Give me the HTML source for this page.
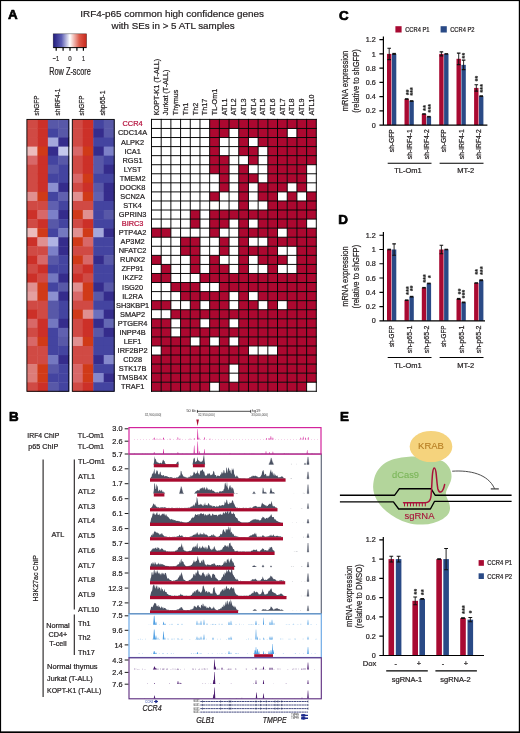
<!DOCTYPE html>
<html lang="en"><head><meta charset="utf-8"><title>Figure</title>
<style>html,body{margin:0;padding:0;background:#fff}svg{display:block;will-change:transform}text{font-family:'Liberation Sans',sans-serif}</style></head>
<body><svg width="520" height="733" viewBox="0 0 520 733">
<rect width="520" height="733" fill="#fff"/>
<text font-size="13.4" font-weight="bold" fill="#000" stroke="#000" stroke-width="0.7" stroke-linejoin="round" x="8.10" y="19.40">A</text>
<text font-size="9.8" text-anchor="middle" fill="#231f20" stroke="#231f20" stroke-width="0.22" textLength="183.6" lengthAdjust="spacingAndGlyphs" x="172.10" y="16.60">IRF4-p65 common high confidence genes</text>
<text font-size="9.8" text-anchor="middle" fill="#231f20" stroke="#231f20" stroke-width="0.22" textLength="123" lengthAdjust="spacingAndGlyphs" x="173.10" y="28.90">with SEs in &gt; 5 ATL samples</text>
<defs><linearGradient id="zg" x1="0" x2="1" y1="0" y2="0"><stop offset="0" stop-color="#221c7e"/><stop offset="0.25" stop-color="#5d5eb4"/><stop offset="0.5" stop-color="#ffffff"/><stop offset="0.78" stop-color="#dd5a4a"/><stop offset="1" stop-color="#c8281c"/></linearGradient></defs>
<rect x="53.2" y="33.8" width="33.4" height="13.8" fill="url(#zg)" stroke="#000" stroke-opacity="0.55" stroke-width="0.6"/>
<line x1="56.2" y1="47.6" x2="56.2" y2="50.8" stroke="#000" stroke-width="1.2"/>
<line x1="63.1" y1="47.6" x2="63.1" y2="50.8" stroke="#000" stroke-width="1.2"/>
<line x1="70" y1="47.6" x2="70" y2="50.8" stroke="#000" stroke-width="1.2"/>
<line x1="76.9" y1="47.6" x2="76.9" y2="50.8" stroke="#000" stroke-width="1.2"/>
<line x1="83.4" y1="47.6" x2="83.4" y2="50.8" stroke="#000" stroke-width="1.2"/>
<line x1="53.2" y1="47.6" x2="86.6" y2="47.6" stroke="#000" stroke-width="0.9"/>
<text font-size="8" text-anchor="middle" fill="#231f20" stroke="#231f20" stroke-width="0.22" textLength="6.5" lengthAdjust="spacingAndGlyphs" x="56.00" y="61.00">−1</text>
<text font-size="8" text-anchor="middle" fill="#231f20" stroke="#231f20" stroke-width="0.22" textLength="3.4" lengthAdjust="spacingAndGlyphs" x="70.00" y="61.00">0</text>
<text font-size="8" text-anchor="middle" fill="#231f20" stroke="#231f20" stroke-width="0.22" textLength="3.0" lengthAdjust="spacingAndGlyphs" x="83.40" y="61.00">1</text>
<text font-size="10.3" text-anchor="middle" fill="#231f20" stroke="#231f20" stroke-width="0.22" textLength="41.5" lengthAdjust="spacingAndGlyphs" x="70.00" y="74.60">Row Z-score</text>
<text font-size="7.5" fill="#231f20" stroke="#231f20" stroke-width="0.22" textLength="20" lengthAdjust="spacingAndGlyphs" transform="translate(39.20,115.50) rotate(-90)">shGFP</text>
<text font-size="7.5" fill="#231f20" stroke="#231f20" stroke-width="0.22" textLength="27" lengthAdjust="spacingAndGlyphs" transform="translate(60.40,115.50) rotate(-90)">shIRF4-1</text>
<text font-size="7.5" fill="#231f20" stroke="#231f20" stroke-width="0.22" textLength="20" lengthAdjust="spacingAndGlyphs" transform="translate(84.30,115.50) rotate(-90)">shGFP</text>
<text font-size="7.5" fill="#231f20" stroke="#231f20" stroke-width="0.22" textLength="25" lengthAdjust="spacingAndGlyphs" transform="translate(104.80,115.50) rotate(-90)">shp65-1</text>
<rect x="26.90" y="119.40" width="10.92" height="9.51" fill="#d04a44"/>
<rect x="37.38" y="119.40" width="10.92" height="9.51" fill="#cc3028"/>
<rect x="47.85" y="119.40" width="10.92" height="9.51" fill="#5858a8"/>
<rect x="58.32" y="119.40" width="10.92" height="9.51" fill="#5858a8"/>
<rect x="26.90" y="128.46" width="10.92" height="9.51" fill="#d04a44"/>
<rect x="37.38" y="128.46" width="10.92" height="9.51" fill="#cc3028"/>
<rect x="47.85" y="128.46" width="10.92" height="9.51" fill="#4444a0"/>
<rect x="58.32" y="128.46" width="10.92" height="9.51" fill="#5858a8"/>
<rect x="26.90" y="137.53" width="10.92" height="9.51" fill="#d04a44"/>
<rect x="37.38" y="137.53" width="10.92" height="9.51" fill="#cc3028"/>
<rect x="47.85" y="137.53" width="10.92" height="9.51" fill="#a4a8dc"/>
<rect x="58.32" y="137.53" width="10.92" height="9.51" fill="#352c8c"/>
<rect x="26.90" y="146.59" width="10.92" height="9.51" fill="#ecbcbc"/>
<rect x="37.38" y="146.59" width="10.92" height="9.51" fill="#d03a18"/>
<rect x="47.85" y="146.59" width="10.92" height="9.51" fill="#352c8c"/>
<rect x="58.32" y="146.59" width="10.92" height="9.51" fill="#c4c8ec"/>
<rect x="26.90" y="155.65" width="10.92" height="9.51" fill="#d86868"/>
<rect x="37.38" y="155.65" width="10.92" height="9.51" fill="#cc3028"/>
<rect x="47.85" y="155.65" width="10.92" height="9.51" fill="#4444a0"/>
<rect x="58.32" y="155.65" width="10.92" height="9.51" fill="#5858a8"/>
<rect x="26.90" y="164.72" width="10.92" height="9.51" fill="#d04a44"/>
<rect x="37.38" y="164.72" width="10.92" height="9.51" fill="#cc3028"/>
<rect x="47.85" y="164.72" width="10.92" height="9.51" fill="#5858a8"/>
<rect x="58.32" y="164.72" width="10.92" height="9.51" fill="#4444a0"/>
<rect x="26.90" y="173.78" width="10.92" height="9.51" fill="#d04a44"/>
<rect x="37.38" y="173.78" width="10.92" height="9.51" fill="#cc3028"/>
<rect x="47.85" y="173.78" width="10.92" height="9.51" fill="#4444a0"/>
<rect x="58.32" y="173.78" width="10.92" height="9.51" fill="#4444a0"/>
<rect x="26.90" y="182.84" width="10.92" height="9.51" fill="#d04a44"/>
<rect x="37.38" y="182.84" width="10.92" height="9.51" fill="#cc3028"/>
<rect x="47.85" y="182.84" width="10.92" height="9.51" fill="#8c90d0"/>
<rect x="58.32" y="182.84" width="10.92" height="9.51" fill="#352c8c"/>
<rect x="26.90" y="191.90" width="10.92" height="9.51" fill="#e09090"/>
<rect x="37.38" y="191.90" width="10.92" height="9.51" fill="#d03a18"/>
<rect x="47.85" y="191.90" width="10.92" height="9.51" fill="#4444a0"/>
<rect x="58.32" y="191.90" width="10.92" height="9.51" fill="#6060b0"/>
<rect x="26.90" y="200.97" width="10.92" height="9.51" fill="#d04a44"/>
<rect x="37.38" y="200.97" width="10.92" height="9.51" fill="#d04a44"/>
<rect x="47.85" y="200.97" width="10.92" height="9.51" fill="#6060b0"/>
<rect x="58.32" y="200.97" width="10.92" height="9.51" fill="#4444a0"/>
<rect x="26.90" y="210.03" width="10.92" height="9.51" fill="#cc3028"/>
<rect x="37.38" y="210.03" width="10.92" height="9.51" fill="#d86868"/>
<rect x="47.85" y="210.03" width="10.92" height="9.51" fill="#7c80c8"/>
<rect x="58.32" y="210.03" width="10.92" height="9.51" fill="#352c8c"/>
<rect x="26.90" y="219.09" width="10.92" height="9.51" fill="#d04a44"/>
<rect x="37.38" y="219.09" width="10.92" height="9.51" fill="#cc3028"/>
<rect x="47.85" y="219.09" width="10.92" height="9.51" fill="#5858a8"/>
<rect x="58.32" y="219.09" width="10.92" height="9.51" fill="#4444a0"/>
<rect x="26.90" y="228.16" width="10.92" height="9.51" fill="#ecbcbc"/>
<rect x="37.38" y="228.16" width="10.92" height="9.51" fill="#d03a18"/>
<rect x="47.85" y="228.16" width="10.92" height="9.51" fill="#4444a0"/>
<rect x="58.32" y="228.16" width="10.92" height="9.51" fill="#7478c0"/>
<rect x="26.90" y="237.22" width="10.92" height="9.51" fill="#cc3028"/>
<rect x="37.38" y="237.22" width="10.92" height="9.51" fill="#e09090"/>
<rect x="47.85" y="237.22" width="10.92" height="9.51" fill="#b0b4e4"/>
<rect x="58.32" y="237.22" width="10.92" height="9.51" fill="#352c8c"/>
<rect x="26.90" y="246.28" width="10.92" height="9.51" fill="#d04a44"/>
<rect x="37.38" y="246.28" width="10.92" height="9.51" fill="#d04a44"/>
<rect x="47.85" y="246.28" width="10.92" height="9.51" fill="#7c80c8"/>
<rect x="58.32" y="246.28" width="10.92" height="9.51" fill="#352c8c"/>
<rect x="26.90" y="255.35" width="10.92" height="9.51" fill="#cc3028"/>
<rect x="37.38" y="255.35" width="10.92" height="9.51" fill="#d86868"/>
<rect x="47.85" y="255.35" width="10.92" height="9.51" fill="#5858a8"/>
<rect x="58.32" y="255.35" width="10.92" height="9.51" fill="#4444a0"/>
<rect x="26.90" y="264.41" width="10.92" height="9.51" fill="#d04a44"/>
<rect x="37.38" y="264.41" width="10.92" height="9.51" fill="#cc3028"/>
<rect x="47.85" y="264.41" width="10.92" height="9.51" fill="#4444a0"/>
<rect x="58.32" y="264.41" width="10.92" height="9.51" fill="#4444a0"/>
<rect x="26.90" y="273.47" width="10.92" height="9.51" fill="#cc3028"/>
<rect x="37.38" y="273.47" width="10.92" height="9.51" fill="#d04a44"/>
<rect x="47.85" y="273.47" width="10.92" height="9.51" fill="#7478c0"/>
<rect x="58.32" y="273.47" width="10.92" height="9.51" fill="#352c8c"/>
<rect x="26.90" y="282.53" width="10.92" height="9.51" fill="#e09090"/>
<rect x="37.38" y="282.53" width="10.92" height="9.51" fill="#d03a18"/>
<rect x="47.85" y="282.53" width="10.92" height="9.51" fill="#4444a0"/>
<rect x="58.32" y="282.53" width="10.92" height="9.51" fill="#5858a8"/>
<rect x="26.90" y="291.60" width="10.92" height="9.51" fill="#e4a0a0"/>
<rect x="37.38" y="291.60" width="10.92" height="9.51" fill="#d03a18"/>
<rect x="47.85" y="291.60" width="10.92" height="9.51" fill="#8c90d0"/>
<rect x="58.32" y="291.60" width="10.92" height="9.51" fill="#352c8c"/>
<rect x="26.90" y="300.66" width="10.92" height="9.51" fill="#d04a44"/>
<rect x="37.38" y="300.66" width="10.92" height="9.51" fill="#d04a44"/>
<rect x="47.85" y="300.66" width="10.92" height="9.51" fill="#5858a8"/>
<rect x="58.32" y="300.66" width="10.92" height="9.51" fill="#4444a0"/>
<rect x="26.90" y="309.72" width="10.92" height="9.51" fill="#cc3028"/>
<rect x="37.38" y="309.72" width="10.92" height="9.51" fill="#d04a44"/>
<rect x="47.85" y="309.72" width="10.92" height="9.51" fill="#5858a8"/>
<rect x="58.32" y="309.72" width="10.92" height="9.51" fill="#4444a0"/>
<rect x="26.90" y="318.79" width="10.92" height="9.51" fill="#d86868"/>
<rect x="37.38" y="318.79" width="10.92" height="9.51" fill="#cc3028"/>
<rect x="47.85" y="318.79" width="10.92" height="9.51" fill="#7478c0"/>
<rect x="58.32" y="318.79" width="10.92" height="9.51" fill="#352c8c"/>
<rect x="26.90" y="327.85" width="10.92" height="9.51" fill="#d04a44"/>
<rect x="37.38" y="327.85" width="10.92" height="9.51" fill="#cc3028"/>
<rect x="47.85" y="327.85" width="10.92" height="9.51" fill="#4444a0"/>
<rect x="58.32" y="327.85" width="10.92" height="9.51" fill="#6060b0"/>
<rect x="26.90" y="336.91" width="10.92" height="9.51" fill="#d86868"/>
<rect x="37.38" y="336.91" width="10.92" height="9.51" fill="#d03a18"/>
<rect x="47.85" y="336.91" width="10.92" height="9.51" fill="#4444a0"/>
<rect x="58.32" y="336.91" width="10.92" height="9.51" fill="#5858a8"/>
<rect x="26.90" y="345.98" width="10.92" height="9.51" fill="#d04a44"/>
<rect x="37.38" y="345.98" width="10.92" height="9.51" fill="#d04a44"/>
<rect x="47.85" y="345.98" width="10.92" height="9.51" fill="#4444a0"/>
<rect x="58.32" y="345.98" width="10.92" height="9.51" fill="#4444a0"/>
<rect x="26.90" y="355.04" width="10.92" height="9.51" fill="#d04a44"/>
<rect x="37.38" y="355.04" width="10.92" height="9.51" fill="#d04a44"/>
<rect x="47.85" y="355.04" width="10.92" height="9.51" fill="#7478c0"/>
<rect x="58.32" y="355.04" width="10.92" height="9.51" fill="#352c8c"/>
<rect x="26.90" y="364.10" width="10.92" height="9.51" fill="#dc7c78"/>
<rect x="37.38" y="364.10" width="10.92" height="9.51" fill="#d03a18"/>
<rect x="47.85" y="364.10" width="10.92" height="9.51" fill="#5858a8"/>
<rect x="58.32" y="364.10" width="10.92" height="9.51" fill="#4444a0"/>
<rect x="26.90" y="373.16" width="10.92" height="9.51" fill="#dc7c78"/>
<rect x="37.38" y="373.16" width="10.92" height="9.51" fill="#d03a18"/>
<rect x="47.85" y="373.16" width="10.92" height="9.51" fill="#4444a0"/>
<rect x="58.32" y="373.16" width="10.92" height="9.51" fill="#4444a0"/>
<rect x="26.90" y="382.23" width="10.92" height="9.51" fill="#d04a44"/>
<rect x="37.38" y="382.23" width="10.92" height="9.51" fill="#cc3028"/>
<rect x="47.85" y="382.23" width="10.92" height="9.51" fill="#5858a8"/>
<rect x="58.32" y="382.23" width="10.92" height="9.51" fill="#4444a0"/>
<rect x="26.90" y="119.40" width="41.9" height="271.89" fill="none" stroke="#000" stroke-width="0.9"/>
<rect x="72.30" y="119.40" width="10.92" height="9.51" fill="#d04a44"/>
<rect x="82.77" y="119.40" width="10.92" height="9.51" fill="#cc3028"/>
<rect x="93.25" y="119.40" width="10.92" height="9.51" fill="#4444a0"/>
<rect x="103.72" y="119.40" width="10.92" height="9.51" fill="#5858a8"/>
<rect x="72.30" y="128.46" width="10.92" height="9.51" fill="#d04a44"/>
<rect x="82.77" y="128.46" width="10.92" height="9.51" fill="#cc3028"/>
<rect x="93.25" y="128.46" width="10.92" height="9.51" fill="#352c8c"/>
<rect x="103.72" y="128.46" width="10.92" height="9.51" fill="#5858a8"/>
<rect x="72.30" y="137.53" width="10.92" height="9.51" fill="#d04a44"/>
<rect x="82.77" y="137.53" width="10.92" height="9.51" fill="#cc3028"/>
<rect x="93.25" y="137.53" width="10.92" height="9.51" fill="#4444a0"/>
<rect x="103.72" y="137.53" width="10.92" height="9.51" fill="#4444a0"/>
<rect x="72.30" y="146.59" width="10.92" height="9.51" fill="#d86868"/>
<rect x="82.77" y="146.59" width="10.92" height="9.51" fill="#d03a18"/>
<rect x="93.25" y="146.59" width="10.92" height="9.51" fill="#352c8c"/>
<rect x="103.72" y="146.59" width="10.92" height="9.51" fill="#7c80c8"/>
<rect x="72.30" y="155.65" width="10.92" height="9.51" fill="#d04a44"/>
<rect x="82.77" y="155.65" width="10.92" height="9.51" fill="#cc3028"/>
<rect x="93.25" y="155.65" width="10.92" height="9.51" fill="#5858a8"/>
<rect x="103.72" y="155.65" width="10.92" height="9.51" fill="#4444a0"/>
<rect x="72.30" y="164.72" width="10.92" height="9.51" fill="#d04a44"/>
<rect x="82.77" y="164.72" width="10.92" height="9.51" fill="#cc3028"/>
<rect x="93.25" y="164.72" width="10.92" height="9.51" fill="#5858a8"/>
<rect x="103.72" y="164.72" width="10.92" height="9.51" fill="#352c8c"/>
<rect x="72.30" y="173.78" width="10.92" height="9.51" fill="#d86868"/>
<rect x="82.77" y="173.78" width="10.92" height="9.51" fill="#d03a18"/>
<rect x="93.25" y="173.78" width="10.92" height="9.51" fill="#4444a0"/>
<rect x="103.72" y="173.78" width="10.92" height="9.51" fill="#4444a0"/>
<rect x="72.30" y="182.84" width="10.92" height="9.51" fill="#d04a44"/>
<rect x="82.77" y="182.84" width="10.92" height="9.51" fill="#cc3028"/>
<rect x="93.25" y="182.84" width="10.92" height="9.51" fill="#5858a8"/>
<rect x="103.72" y="182.84" width="10.92" height="9.51" fill="#352c8c"/>
<rect x="72.30" y="191.90" width="10.92" height="9.51" fill="#e09090"/>
<rect x="82.77" y="191.90" width="10.92" height="9.51" fill="#d03a18"/>
<rect x="93.25" y="191.90" width="10.92" height="9.51" fill="#6060b0"/>
<rect x="103.72" y="191.90" width="10.92" height="9.51" fill="#352c8c"/>
<rect x="72.30" y="200.97" width="10.92" height="9.51" fill="#d04a44"/>
<rect x="82.77" y="200.97" width="10.92" height="9.51" fill="#d04a44"/>
<rect x="93.25" y="200.97" width="10.92" height="9.51" fill="#4444a0"/>
<rect x="103.72" y="200.97" width="10.92" height="9.51" fill="#4444a0"/>
<rect x="72.30" y="210.03" width="10.92" height="9.51" fill="#d03a18"/>
<rect x="82.77" y="210.03" width="10.92" height="9.51" fill="#e09090"/>
<rect x="93.25" y="210.03" width="10.92" height="9.51" fill="#4444a0"/>
<rect x="103.72" y="210.03" width="10.92" height="9.51" fill="#5858a8"/>
<rect x="72.30" y="219.09" width="10.92" height="9.51" fill="#d04a44"/>
<rect x="82.77" y="219.09" width="10.92" height="9.51" fill="#cc3028"/>
<rect x="93.25" y="219.09" width="10.92" height="9.51" fill="#4444a0"/>
<rect x="103.72" y="219.09" width="10.92" height="9.51" fill="#4444a0"/>
<rect x="72.30" y="228.16" width="10.92" height="9.51" fill="#e09090"/>
<rect x="82.77" y="228.16" width="10.92" height="9.51" fill="#d03a18"/>
<rect x="93.25" y="228.16" width="10.92" height="9.51" fill="#a4a8dc"/>
<rect x="103.72" y="228.16" width="10.92" height="9.51" fill="#352c8c"/>
<rect x="72.30" y="237.22" width="10.92" height="9.51" fill="#d03a18"/>
<rect x="82.77" y="237.22" width="10.92" height="9.51" fill="#d86868"/>
<rect x="93.25" y="237.22" width="10.92" height="9.51" fill="#4444a0"/>
<rect x="103.72" y="237.22" width="10.92" height="9.51" fill="#4444a0"/>
<rect x="72.30" y="246.28" width="10.92" height="9.51" fill="#d04a44"/>
<rect x="82.77" y="246.28" width="10.92" height="9.51" fill="#d04a44"/>
<rect x="93.25" y="246.28" width="10.92" height="9.51" fill="#4444a0"/>
<rect x="103.72" y="246.28" width="10.92" height="9.51" fill="#4444a0"/>
<rect x="72.30" y="255.35" width="10.92" height="9.51" fill="#d03a18"/>
<rect x="82.77" y="255.35" width="10.92" height="9.51" fill="#d86868"/>
<rect x="93.25" y="255.35" width="10.92" height="9.51" fill="#352c8c"/>
<rect x="103.72" y="255.35" width="10.92" height="9.51" fill="#5858a8"/>
<rect x="72.30" y="264.41" width="10.92" height="9.51" fill="#d04a44"/>
<rect x="82.77" y="264.41" width="10.92" height="9.51" fill="#cc3028"/>
<rect x="93.25" y="264.41" width="10.92" height="9.51" fill="#4444a0"/>
<rect x="103.72" y="264.41" width="10.92" height="9.51" fill="#4444a0"/>
<rect x="72.30" y="273.47" width="10.92" height="9.51" fill="#cc3028"/>
<rect x="82.77" y="273.47" width="10.92" height="9.51" fill="#d04a44"/>
<rect x="93.25" y="273.47" width="10.92" height="9.51" fill="#4444a0"/>
<rect x="103.72" y="273.47" width="10.92" height="9.51" fill="#4444a0"/>
<rect x="72.30" y="282.53" width="10.92" height="9.51" fill="#e09090"/>
<rect x="82.77" y="282.53" width="10.92" height="9.51" fill="#d03a18"/>
<rect x="93.25" y="282.53" width="10.92" height="9.51" fill="#352c8c"/>
<rect x="103.72" y="282.53" width="10.92" height="9.51" fill="#5858a8"/>
<rect x="72.30" y="291.60" width="10.92" height="9.51" fill="#d86868"/>
<rect x="82.77" y="291.60" width="10.92" height="9.51" fill="#d03a18"/>
<rect x="93.25" y="291.60" width="10.92" height="9.51" fill="#5858a8"/>
<rect x="103.72" y="291.60" width="10.92" height="9.51" fill="#352c8c"/>
<rect x="72.30" y="300.66" width="10.92" height="9.51" fill="#d04a44"/>
<rect x="82.77" y="300.66" width="10.92" height="9.51" fill="#d04a44"/>
<rect x="93.25" y="300.66" width="10.92" height="9.51" fill="#4444a0"/>
<rect x="103.72" y="300.66" width="10.92" height="9.51" fill="#4444a0"/>
<rect x="72.30" y="309.72" width="10.92" height="9.51" fill="#d03a18"/>
<rect x="82.77" y="309.72" width="10.92" height="9.51" fill="#e09090"/>
<rect x="93.25" y="309.72" width="10.92" height="9.51" fill="#6c70bc"/>
<rect x="103.72" y="309.72" width="10.92" height="9.51" fill="#352c8c"/>
<rect x="72.30" y="318.79" width="10.92" height="9.51" fill="#d04a44"/>
<rect x="82.77" y="318.79" width="10.92" height="9.51" fill="#cc3028"/>
<rect x="93.25" y="318.79" width="10.92" height="9.51" fill="#352c8c"/>
<rect x="103.72" y="318.79" width="10.92" height="9.51" fill="#6468b4"/>
<rect x="72.30" y="327.85" width="10.92" height="9.51" fill="#d04a44"/>
<rect x="82.77" y="327.85" width="10.92" height="9.51" fill="#cc3028"/>
<rect x="93.25" y="327.85" width="10.92" height="9.51" fill="#5858a8"/>
<rect x="103.72" y="327.85" width="10.92" height="9.51" fill="#352c8c"/>
<rect x="72.30" y="336.91" width="10.92" height="9.51" fill="#e09090"/>
<rect x="82.77" y="336.91" width="10.92" height="9.51" fill="#d03a18"/>
<rect x="93.25" y="336.91" width="10.92" height="9.51" fill="#4444a0"/>
<rect x="103.72" y="336.91" width="10.92" height="9.51" fill="#4444a0"/>
<rect x="72.30" y="345.98" width="10.92" height="9.51" fill="#d04a44"/>
<rect x="82.77" y="345.98" width="10.92" height="9.51" fill="#d04a44"/>
<rect x="93.25" y="345.98" width="10.92" height="9.51" fill="#4444a0"/>
<rect x="103.72" y="345.98" width="10.92" height="9.51" fill="#4444a0"/>
<rect x="72.30" y="355.04" width="10.92" height="9.51" fill="#d04a44"/>
<rect x="82.77" y="355.04" width="10.92" height="9.51" fill="#d04a44"/>
<rect x="93.25" y="355.04" width="10.92" height="9.51" fill="#352c8c"/>
<rect x="103.72" y="355.04" width="10.92" height="9.51" fill="#8488cc"/>
<rect x="72.30" y="364.10" width="10.92" height="9.51" fill="#d86868"/>
<rect x="82.77" y="364.10" width="10.92" height="9.51" fill="#d03a18"/>
<rect x="93.25" y="364.10" width="10.92" height="9.51" fill="#4444a0"/>
<rect x="103.72" y="364.10" width="10.92" height="9.51" fill="#4444a0"/>
<rect x="72.30" y="373.16" width="10.92" height="9.51" fill="#d86868"/>
<rect x="82.77" y="373.16" width="10.92" height="9.51" fill="#d03a18"/>
<rect x="93.25" y="373.16" width="10.92" height="9.51" fill="#8488cc"/>
<rect x="103.72" y="373.16" width="10.92" height="9.51" fill="#352c8c"/>
<rect x="72.30" y="382.23" width="10.92" height="9.51" fill="#d04a44"/>
<rect x="82.77" y="382.23" width="10.92" height="9.51" fill="#cc3028"/>
<rect x="93.25" y="382.23" width="10.92" height="9.51" fill="#4444a0"/>
<rect x="103.72" y="382.23" width="10.92" height="9.51" fill="#4444a0"/>
<rect x="72.30" y="119.40" width="41.9" height="271.89" fill="none" stroke="#000" stroke-width="0.9"/>
<text font-size="7.4" text-anchor="middle" fill="#b5103c" stroke="#b5103c" stroke-width="0.22" x="132.60" y="126.38">CCR4</text>
<text font-size="7.4" text-anchor="middle" fill="#231f20" stroke="#231f20" stroke-width="0.22" x="132.60" y="135.44">CDC14A</text>
<text font-size="7.4" text-anchor="middle" fill="#231f20" stroke="#231f20" stroke-width="0.22" x="132.60" y="144.51">ALPK2</text>
<text font-size="7.4" text-anchor="middle" fill="#231f20" stroke="#231f20" stroke-width="0.22" x="132.60" y="153.57">ICA1</text>
<text font-size="7.4" text-anchor="middle" fill="#231f20" stroke="#231f20" stroke-width="0.22" x="132.60" y="162.63">RGS1</text>
<text font-size="7.4" text-anchor="middle" fill="#231f20" stroke="#231f20" stroke-width="0.22" x="132.60" y="171.70">LYST</text>
<text font-size="7.4" text-anchor="middle" fill="#231f20" stroke="#231f20" stroke-width="0.22" x="132.60" y="180.76">TMEM2</text>
<text font-size="7.4" text-anchor="middle" fill="#231f20" stroke="#231f20" stroke-width="0.22" x="132.60" y="189.82">DOCK8</text>
<text font-size="7.4" text-anchor="middle" fill="#231f20" stroke="#231f20" stroke-width="0.22" x="132.60" y="198.89">SCN2A</text>
<text font-size="7.4" text-anchor="middle" fill="#231f20" stroke="#231f20" stroke-width="0.22" x="132.60" y="207.95">STK4</text>
<text font-size="7.4" text-anchor="middle" fill="#231f20" stroke="#231f20" stroke-width="0.22" x="132.60" y="217.01">GPRIN3</text>
<text font-size="7.4" text-anchor="middle" fill="#b5103c" stroke="#b5103c" stroke-width="0.22" x="132.60" y="226.07">BIRC3</text>
<text font-size="7.4" text-anchor="middle" fill="#231f20" stroke="#231f20" stroke-width="0.22" x="132.60" y="235.14">PTP4A2</text>
<text font-size="7.4" text-anchor="middle" fill="#231f20" stroke="#231f20" stroke-width="0.22" x="132.60" y="244.20">AP3M2</text>
<text font-size="7.4" text-anchor="middle" fill="#231f20" stroke="#231f20" stroke-width="0.22" x="132.60" y="253.26">NFATC2</text>
<text font-size="7.4" text-anchor="middle" fill="#231f20" stroke="#231f20" stroke-width="0.22" x="132.60" y="262.33">RUNX2</text>
<text font-size="7.4" text-anchor="middle" fill="#231f20" stroke="#231f20" stroke-width="0.22" x="132.60" y="271.39">ZFP91</text>
<text font-size="7.4" text-anchor="middle" fill="#231f20" stroke="#231f20" stroke-width="0.22" x="132.60" y="280.45">IKZF2</text>
<text font-size="7.4" text-anchor="middle" fill="#231f20" stroke="#231f20" stroke-width="0.22" x="132.60" y="289.52">ISG20</text>
<text font-size="7.4" text-anchor="middle" fill="#231f20" stroke="#231f20" stroke-width="0.22" x="132.60" y="298.58">IL2RA</text>
<text font-size="7.4" text-anchor="middle" fill="#231f20" stroke="#231f20" stroke-width="0.22" x="132.60" y="307.64">SH3KBP1</text>
<text font-size="7.4" text-anchor="middle" fill="#231f20" stroke="#231f20" stroke-width="0.22" x="132.60" y="316.70">SMAP2</text>
<text font-size="7.4" text-anchor="middle" fill="#231f20" stroke="#231f20" stroke-width="0.22" x="132.60" y="325.77">PTGER4</text>
<text font-size="7.4" text-anchor="middle" fill="#231f20" stroke="#231f20" stroke-width="0.22" x="132.60" y="334.83">INPP4B</text>
<text font-size="7.4" text-anchor="middle" fill="#231f20" stroke="#231f20" stroke-width="0.22" x="132.60" y="343.89">LEF1</text>
<text font-size="7.4" text-anchor="middle" fill="#231f20" stroke="#231f20" stroke-width="0.22" x="132.60" y="352.96">IRF2BP2</text>
<text font-size="7.4" text-anchor="middle" fill="#231f20" stroke="#231f20" stroke-width="0.22" x="132.60" y="362.02">CD28</text>
<text font-size="7.4" text-anchor="middle" fill="#231f20" stroke="#231f20" stroke-width="0.22" x="132.60" y="371.08">STK17B</text>
<text font-size="7.4" text-anchor="middle" fill="#231f20" stroke="#231f20" stroke-width="0.22" x="132.60" y="380.15">TMSB4X</text>
<text font-size="7.4" text-anchor="middle" fill="#231f20" stroke="#231f20" stroke-width="0.22" x="132.60" y="389.21">TRAF1</text>
<rect x="151.5" y="119.4" width="164.80" height="271.89" fill="#fff"/>
<rect x="209.66" y="119.40" width="9.69" height="9.06" fill="#ac0830"/>
<rect x="219.36" y="119.40" width="9.69" height="9.06" fill="#ac0830"/>
<rect x="229.05" y="119.40" width="9.69" height="9.06" fill="#ac0830"/>
<rect x="238.75" y="119.40" width="9.69" height="9.06" fill="#ac0830"/>
<rect x="248.44" y="119.40" width="9.69" height="9.06" fill="#ac0830"/>
<rect x="258.14" y="119.40" width="9.69" height="9.06" fill="#ac0830"/>
<rect x="267.83" y="119.40" width="9.69" height="9.06" fill="#ac0830"/>
<rect x="277.52" y="119.40" width="9.69" height="9.06" fill="#ac0830"/>
<rect x="287.22" y="119.40" width="9.69" height="9.06" fill="#ac0830"/>
<rect x="296.91" y="119.40" width="9.69" height="9.06" fill="#ac0830"/>
<rect x="306.61" y="119.40" width="9.69" height="9.06" fill="#ac0830"/>
<rect x="209.66" y="128.46" width="9.69" height="9.06" fill="#ac0830"/>
<rect x="219.36" y="128.46" width="9.69" height="9.06" fill="#ac0830"/>
<rect x="238.75" y="128.46" width="9.69" height="9.06" fill="#ac0830"/>
<rect x="248.44" y="128.46" width="9.69" height="9.06" fill="#ac0830"/>
<rect x="258.14" y="128.46" width="9.69" height="9.06" fill="#ac0830"/>
<rect x="267.83" y="128.46" width="9.69" height="9.06" fill="#ac0830"/>
<rect x="277.52" y="128.46" width="9.69" height="9.06" fill="#ac0830"/>
<rect x="296.91" y="128.46" width="9.69" height="9.06" fill="#ac0830"/>
<rect x="306.61" y="128.46" width="9.69" height="9.06" fill="#ac0830"/>
<rect x="209.66" y="137.53" width="9.69" height="9.06" fill="#ac0830"/>
<rect x="238.75" y="137.53" width="9.69" height="9.06" fill="#ac0830"/>
<rect x="258.14" y="137.53" width="9.69" height="9.06" fill="#ac0830"/>
<rect x="267.83" y="137.53" width="9.69" height="9.06" fill="#ac0830"/>
<rect x="277.52" y="137.53" width="9.69" height="9.06" fill="#ac0830"/>
<rect x="287.22" y="137.53" width="9.69" height="9.06" fill="#ac0830"/>
<rect x="296.91" y="137.53" width="9.69" height="9.06" fill="#ac0830"/>
<rect x="306.61" y="137.53" width="9.69" height="9.06" fill="#ac0830"/>
<rect x="209.66" y="146.59" width="9.69" height="9.06" fill="#ac0830"/>
<rect x="238.75" y="146.59" width="9.69" height="9.06" fill="#ac0830"/>
<rect x="248.44" y="146.59" width="9.69" height="9.06" fill="#ac0830"/>
<rect x="267.83" y="146.59" width="9.69" height="9.06" fill="#ac0830"/>
<rect x="277.52" y="146.59" width="9.69" height="9.06" fill="#ac0830"/>
<rect x="287.22" y="146.59" width="9.69" height="9.06" fill="#ac0830"/>
<rect x="296.91" y="146.59" width="9.69" height="9.06" fill="#ac0830"/>
<rect x="306.61" y="146.59" width="9.69" height="9.06" fill="#ac0830"/>
<rect x="209.66" y="155.65" width="9.69" height="9.06" fill="#ac0830"/>
<rect x="219.36" y="155.65" width="9.69" height="9.06" fill="#ac0830"/>
<rect x="248.44" y="155.65" width="9.69" height="9.06" fill="#ac0830"/>
<rect x="267.83" y="155.65" width="9.69" height="9.06" fill="#ac0830"/>
<rect x="277.52" y="155.65" width="9.69" height="9.06" fill="#ac0830"/>
<rect x="287.22" y="155.65" width="9.69" height="9.06" fill="#ac0830"/>
<rect x="296.91" y="155.65" width="9.69" height="9.06" fill="#ac0830"/>
<rect x="306.61" y="155.65" width="9.69" height="9.06" fill="#ac0830"/>
<rect x="209.66" y="164.72" width="9.69" height="9.06" fill="#ac0830"/>
<rect x="219.36" y="164.72" width="9.69" height="9.06" fill="#ac0830"/>
<rect x="238.75" y="164.72" width="9.69" height="9.06" fill="#ac0830"/>
<rect x="267.83" y="164.72" width="9.69" height="9.06" fill="#ac0830"/>
<rect x="277.52" y="164.72" width="9.69" height="9.06" fill="#ac0830"/>
<rect x="287.22" y="164.72" width="9.69" height="9.06" fill="#ac0830"/>
<rect x="296.91" y="164.72" width="9.69" height="9.06" fill="#ac0830"/>
<rect x="219.36" y="173.78" width="9.69" height="9.06" fill="#ac0830"/>
<rect x="238.75" y="173.78" width="9.69" height="9.06" fill="#ac0830"/>
<rect x="248.44" y="173.78" width="9.69" height="9.06" fill="#ac0830"/>
<rect x="267.83" y="173.78" width="9.69" height="9.06" fill="#ac0830"/>
<rect x="277.52" y="173.78" width="9.69" height="9.06" fill="#ac0830"/>
<rect x="287.22" y="173.78" width="9.69" height="9.06" fill="#ac0830"/>
<rect x="296.91" y="173.78" width="9.69" height="9.06" fill="#ac0830"/>
<rect x="219.36" y="182.84" width="9.69" height="9.06" fill="#ac0830"/>
<rect x="238.75" y="182.84" width="9.69" height="9.06" fill="#ac0830"/>
<rect x="258.14" y="182.84" width="9.69" height="9.06" fill="#ac0830"/>
<rect x="267.83" y="182.84" width="9.69" height="9.06" fill="#ac0830"/>
<rect x="277.52" y="182.84" width="9.69" height="9.06" fill="#ac0830"/>
<rect x="296.91" y="182.84" width="9.69" height="9.06" fill="#ac0830"/>
<rect x="209.66" y="191.90" width="9.69" height="9.06" fill="#ac0830"/>
<rect x="238.75" y="191.90" width="9.69" height="9.06" fill="#ac0830"/>
<rect x="258.14" y="191.90" width="9.69" height="9.06" fill="#ac0830"/>
<rect x="267.83" y="191.90" width="9.69" height="9.06" fill="#ac0830"/>
<rect x="287.22" y="191.90" width="9.69" height="9.06" fill="#ac0830"/>
<rect x="306.61" y="191.90" width="9.69" height="9.06" fill="#ac0830"/>
<rect x="238.75" y="200.97" width="9.69" height="9.06" fill="#ac0830"/>
<rect x="267.83" y="200.97" width="9.69" height="9.06" fill="#ac0830"/>
<rect x="277.52" y="200.97" width="9.69" height="9.06" fill="#ac0830"/>
<rect x="287.22" y="200.97" width="9.69" height="9.06" fill="#ac0830"/>
<rect x="296.91" y="200.97" width="9.69" height="9.06" fill="#ac0830"/>
<rect x="306.61" y="200.97" width="9.69" height="9.06" fill="#ac0830"/>
<rect x="190.28" y="210.03" width="9.69" height="9.06" fill="#ac0830"/>
<rect x="209.66" y="210.03" width="9.69" height="9.06" fill="#ac0830"/>
<rect x="219.36" y="210.03" width="9.69" height="9.06" fill="#ac0830"/>
<rect x="229.05" y="210.03" width="9.69" height="9.06" fill="#ac0830"/>
<rect x="238.75" y="210.03" width="9.69" height="9.06" fill="#ac0830"/>
<rect x="248.44" y="210.03" width="9.69" height="9.06" fill="#ac0830"/>
<rect x="258.14" y="210.03" width="9.69" height="9.06" fill="#ac0830"/>
<rect x="267.83" y="210.03" width="9.69" height="9.06" fill="#ac0830"/>
<rect x="277.52" y="210.03" width="9.69" height="9.06" fill="#ac0830"/>
<rect x="287.22" y="210.03" width="9.69" height="9.06" fill="#ac0830"/>
<rect x="296.91" y="210.03" width="9.69" height="9.06" fill="#ac0830"/>
<rect x="306.61" y="210.03" width="9.69" height="9.06" fill="#ac0830"/>
<rect x="190.28" y="219.09" width="9.69" height="9.06" fill="#ac0830"/>
<rect x="209.66" y="219.09" width="9.69" height="9.06" fill="#ac0830"/>
<rect x="219.36" y="219.09" width="9.69" height="9.06" fill="#ac0830"/>
<rect x="238.75" y="219.09" width="9.69" height="9.06" fill="#ac0830"/>
<rect x="258.14" y="219.09" width="9.69" height="9.06" fill="#ac0830"/>
<rect x="267.83" y="219.09" width="9.69" height="9.06" fill="#ac0830"/>
<rect x="277.52" y="219.09" width="9.69" height="9.06" fill="#ac0830"/>
<rect x="287.22" y="219.09" width="9.69" height="9.06" fill="#ac0830"/>
<rect x="296.91" y="219.09" width="9.69" height="9.06" fill="#ac0830"/>
<rect x="151.50" y="228.16" width="9.69" height="9.06" fill="#ac0830"/>
<rect x="161.19" y="228.16" width="9.69" height="9.06" fill="#ac0830"/>
<rect x="209.66" y="228.16" width="9.69" height="9.06" fill="#ac0830"/>
<rect x="238.75" y="228.16" width="9.69" height="9.06" fill="#ac0830"/>
<rect x="248.44" y="228.16" width="9.69" height="9.06" fill="#ac0830"/>
<rect x="258.14" y="228.16" width="9.69" height="9.06" fill="#ac0830"/>
<rect x="267.83" y="228.16" width="9.69" height="9.06" fill="#ac0830"/>
<rect x="287.22" y="228.16" width="9.69" height="9.06" fill="#ac0830"/>
<rect x="296.91" y="228.16" width="9.69" height="9.06" fill="#ac0830"/>
<rect x="306.61" y="228.16" width="9.69" height="9.06" fill="#ac0830"/>
<rect x="180.58" y="237.22" width="9.69" height="9.06" fill="#ac0830"/>
<rect x="190.28" y="237.22" width="9.69" height="9.06" fill="#ac0830"/>
<rect x="219.36" y="237.22" width="9.69" height="9.06" fill="#ac0830"/>
<rect x="238.75" y="237.22" width="9.69" height="9.06" fill="#ac0830"/>
<rect x="267.83" y="237.22" width="9.69" height="9.06" fill="#ac0830"/>
<rect x="277.52" y="237.22" width="9.69" height="9.06" fill="#ac0830"/>
<rect x="287.22" y="237.22" width="9.69" height="9.06" fill="#ac0830"/>
<rect x="296.91" y="237.22" width="9.69" height="9.06" fill="#ac0830"/>
<rect x="306.61" y="237.22" width="9.69" height="9.06" fill="#ac0830"/>
<rect x="180.58" y="246.28" width="9.69" height="9.06" fill="#ac0830"/>
<rect x="190.28" y="246.28" width="9.69" height="9.06" fill="#ac0830"/>
<rect x="219.36" y="246.28" width="9.69" height="9.06" fill="#ac0830"/>
<rect x="238.75" y="246.28" width="9.69" height="9.06" fill="#ac0830"/>
<rect x="248.44" y="246.28" width="9.69" height="9.06" fill="#ac0830"/>
<rect x="258.14" y="246.28" width="9.69" height="9.06" fill="#ac0830"/>
<rect x="267.83" y="246.28" width="9.69" height="9.06" fill="#ac0830"/>
<rect x="296.91" y="246.28" width="9.69" height="9.06" fill="#ac0830"/>
<rect x="306.61" y="246.28" width="9.69" height="9.06" fill="#ac0830"/>
<rect x="151.50" y="255.35" width="9.69" height="9.06" fill="#ac0830"/>
<rect x="190.28" y="255.35" width="9.69" height="9.06" fill="#ac0830"/>
<rect x="209.66" y="255.35" width="9.69" height="9.06" fill="#ac0830"/>
<rect x="238.75" y="255.35" width="9.69" height="9.06" fill="#ac0830"/>
<rect x="258.14" y="255.35" width="9.69" height="9.06" fill="#ac0830"/>
<rect x="267.83" y="255.35" width="9.69" height="9.06" fill="#ac0830"/>
<rect x="277.52" y="255.35" width="9.69" height="9.06" fill="#ac0830"/>
<rect x="296.91" y="255.35" width="9.69" height="9.06" fill="#ac0830"/>
<rect x="306.61" y="255.35" width="9.69" height="9.06" fill="#ac0830"/>
<rect x="161.19" y="264.41" width="9.69" height="9.06" fill="#ac0830"/>
<rect x="190.28" y="264.41" width="9.69" height="9.06" fill="#ac0830"/>
<rect x="209.66" y="264.41" width="9.69" height="9.06" fill="#ac0830"/>
<rect x="219.36" y="264.41" width="9.69" height="9.06" fill="#ac0830"/>
<rect x="238.75" y="264.41" width="9.69" height="9.06" fill="#ac0830"/>
<rect x="267.83" y="264.41" width="9.69" height="9.06" fill="#ac0830"/>
<rect x="296.91" y="264.41" width="9.69" height="9.06" fill="#ac0830"/>
<rect x="306.61" y="264.41" width="9.69" height="9.06" fill="#ac0830"/>
<rect x="151.50" y="273.47" width="9.69" height="9.06" fill="#ac0830"/>
<rect x="161.19" y="273.47" width="9.69" height="9.06" fill="#ac0830"/>
<rect x="199.97" y="273.47" width="9.69" height="9.06" fill="#ac0830"/>
<rect x="209.66" y="273.47" width="9.69" height="9.06" fill="#ac0830"/>
<rect x="219.36" y="273.47" width="9.69" height="9.06" fill="#ac0830"/>
<rect x="229.05" y="273.47" width="9.69" height="9.06" fill="#ac0830"/>
<rect x="238.75" y="273.47" width="9.69" height="9.06" fill="#ac0830"/>
<rect x="248.44" y="273.47" width="9.69" height="9.06" fill="#ac0830"/>
<rect x="258.14" y="273.47" width="9.69" height="9.06" fill="#ac0830"/>
<rect x="267.83" y="273.47" width="9.69" height="9.06" fill="#ac0830"/>
<rect x="277.52" y="273.47" width="9.69" height="9.06" fill="#ac0830"/>
<rect x="287.22" y="273.47" width="9.69" height="9.06" fill="#ac0830"/>
<rect x="296.91" y="273.47" width="9.69" height="9.06" fill="#ac0830"/>
<rect x="306.61" y="273.47" width="9.69" height="9.06" fill="#ac0830"/>
<rect x="170.89" y="282.53" width="9.69" height="9.06" fill="#ac0830"/>
<rect x="180.58" y="282.53" width="9.69" height="9.06" fill="#ac0830"/>
<rect x="190.28" y="282.53" width="9.69" height="9.06" fill="#ac0830"/>
<rect x="219.36" y="282.53" width="9.69" height="9.06" fill="#ac0830"/>
<rect x="229.05" y="282.53" width="9.69" height="9.06" fill="#ac0830"/>
<rect x="238.75" y="282.53" width="9.69" height="9.06" fill="#ac0830"/>
<rect x="248.44" y="282.53" width="9.69" height="9.06" fill="#ac0830"/>
<rect x="258.14" y="282.53" width="9.69" height="9.06" fill="#ac0830"/>
<rect x="267.83" y="282.53" width="9.69" height="9.06" fill="#ac0830"/>
<rect x="277.52" y="282.53" width="9.69" height="9.06" fill="#ac0830"/>
<rect x="287.22" y="282.53" width="9.69" height="9.06" fill="#ac0830"/>
<rect x="296.91" y="282.53" width="9.69" height="9.06" fill="#ac0830"/>
<rect x="306.61" y="282.53" width="9.69" height="9.06" fill="#ac0830"/>
<rect x="180.58" y="291.60" width="9.69" height="9.06" fill="#ac0830"/>
<rect x="190.28" y="291.60" width="9.69" height="9.06" fill="#ac0830"/>
<rect x="199.97" y="291.60" width="9.69" height="9.06" fill="#ac0830"/>
<rect x="209.66" y="291.60" width="9.69" height="9.06" fill="#ac0830"/>
<rect x="219.36" y="291.60" width="9.69" height="9.06" fill="#ac0830"/>
<rect x="238.75" y="291.60" width="9.69" height="9.06" fill="#ac0830"/>
<rect x="258.14" y="291.60" width="9.69" height="9.06" fill="#ac0830"/>
<rect x="267.83" y="291.60" width="9.69" height="9.06" fill="#ac0830"/>
<rect x="277.52" y="291.60" width="9.69" height="9.06" fill="#ac0830"/>
<rect x="287.22" y="291.60" width="9.69" height="9.06" fill="#ac0830"/>
<rect x="296.91" y="291.60" width="9.69" height="9.06" fill="#ac0830"/>
<rect x="306.61" y="291.60" width="9.69" height="9.06" fill="#ac0830"/>
<rect x="151.50" y="300.66" width="9.69" height="9.06" fill="#ac0830"/>
<rect x="161.19" y="300.66" width="9.69" height="9.06" fill="#ac0830"/>
<rect x="190.28" y="300.66" width="9.69" height="9.06" fill="#ac0830"/>
<rect x="209.66" y="300.66" width="9.69" height="9.06" fill="#ac0830"/>
<rect x="219.36" y="300.66" width="9.69" height="9.06" fill="#ac0830"/>
<rect x="238.75" y="300.66" width="9.69" height="9.06" fill="#ac0830"/>
<rect x="248.44" y="300.66" width="9.69" height="9.06" fill="#ac0830"/>
<rect x="267.83" y="300.66" width="9.69" height="9.06" fill="#ac0830"/>
<rect x="287.22" y="300.66" width="9.69" height="9.06" fill="#ac0830"/>
<rect x="296.91" y="300.66" width="9.69" height="9.06" fill="#ac0830"/>
<rect x="306.61" y="300.66" width="9.69" height="9.06" fill="#ac0830"/>
<rect x="170.89" y="309.72" width="9.69" height="9.06" fill="#ac0830"/>
<rect x="180.58" y="309.72" width="9.69" height="9.06" fill="#ac0830"/>
<rect x="190.28" y="309.72" width="9.69" height="9.06" fill="#ac0830"/>
<rect x="199.97" y="309.72" width="9.69" height="9.06" fill="#ac0830"/>
<rect x="209.66" y="309.72" width="9.69" height="9.06" fill="#ac0830"/>
<rect x="219.36" y="309.72" width="9.69" height="9.06" fill="#ac0830"/>
<rect x="229.05" y="309.72" width="9.69" height="9.06" fill="#ac0830"/>
<rect x="238.75" y="309.72" width="9.69" height="9.06" fill="#ac0830"/>
<rect x="248.44" y="309.72" width="9.69" height="9.06" fill="#ac0830"/>
<rect x="258.14" y="309.72" width="9.69" height="9.06" fill="#ac0830"/>
<rect x="267.83" y="309.72" width="9.69" height="9.06" fill="#ac0830"/>
<rect x="277.52" y="309.72" width="9.69" height="9.06" fill="#ac0830"/>
<rect x="287.22" y="309.72" width="9.69" height="9.06" fill="#ac0830"/>
<rect x="296.91" y="309.72" width="9.69" height="9.06" fill="#ac0830"/>
<rect x="306.61" y="309.72" width="9.69" height="9.06" fill="#ac0830"/>
<rect x="151.50" y="318.79" width="9.69" height="9.06" fill="#ac0830"/>
<rect x="161.19" y="318.79" width="9.69" height="9.06" fill="#ac0830"/>
<rect x="180.58" y="318.79" width="9.69" height="9.06" fill="#ac0830"/>
<rect x="190.28" y="318.79" width="9.69" height="9.06" fill="#ac0830"/>
<rect x="209.66" y="318.79" width="9.69" height="9.06" fill="#ac0830"/>
<rect x="219.36" y="318.79" width="9.69" height="9.06" fill="#ac0830"/>
<rect x="238.75" y="318.79" width="9.69" height="9.06" fill="#ac0830"/>
<rect x="248.44" y="318.79" width="9.69" height="9.06" fill="#ac0830"/>
<rect x="258.14" y="318.79" width="9.69" height="9.06" fill="#ac0830"/>
<rect x="267.83" y="318.79" width="9.69" height="9.06" fill="#ac0830"/>
<rect x="277.52" y="318.79" width="9.69" height="9.06" fill="#ac0830"/>
<rect x="287.22" y="318.79" width="9.69" height="9.06" fill="#ac0830"/>
<rect x="296.91" y="318.79" width="9.69" height="9.06" fill="#ac0830"/>
<rect x="306.61" y="318.79" width="9.69" height="9.06" fill="#ac0830"/>
<rect x="151.50" y="327.85" width="9.69" height="9.06" fill="#ac0830"/>
<rect x="161.19" y="327.85" width="9.69" height="9.06" fill="#ac0830"/>
<rect x="180.58" y="327.85" width="9.69" height="9.06" fill="#ac0830"/>
<rect x="190.28" y="327.85" width="9.69" height="9.06" fill="#ac0830"/>
<rect x="199.97" y="327.85" width="9.69" height="9.06" fill="#ac0830"/>
<rect x="209.66" y="327.85" width="9.69" height="9.06" fill="#ac0830"/>
<rect x="219.36" y="327.85" width="9.69" height="9.06" fill="#ac0830"/>
<rect x="229.05" y="327.85" width="9.69" height="9.06" fill="#ac0830"/>
<rect x="238.75" y="327.85" width="9.69" height="9.06" fill="#ac0830"/>
<rect x="248.44" y="327.85" width="9.69" height="9.06" fill="#ac0830"/>
<rect x="258.14" y="327.85" width="9.69" height="9.06" fill="#ac0830"/>
<rect x="267.83" y="327.85" width="9.69" height="9.06" fill="#ac0830"/>
<rect x="277.52" y="327.85" width="9.69" height="9.06" fill="#ac0830"/>
<rect x="287.22" y="327.85" width="9.69" height="9.06" fill="#ac0830"/>
<rect x="296.91" y="327.85" width="9.69" height="9.06" fill="#ac0830"/>
<rect x="306.61" y="327.85" width="9.69" height="9.06" fill="#ac0830"/>
<rect x="151.50" y="336.91" width="9.69" height="9.06" fill="#ac0830"/>
<rect x="161.19" y="336.91" width="9.69" height="9.06" fill="#ac0830"/>
<rect x="170.89" y="336.91" width="9.69" height="9.06" fill="#ac0830"/>
<rect x="180.58" y="336.91" width="9.69" height="9.06" fill="#ac0830"/>
<rect x="199.97" y="336.91" width="9.69" height="9.06" fill="#ac0830"/>
<rect x="219.36" y="336.91" width="9.69" height="9.06" fill="#ac0830"/>
<rect x="238.75" y="336.91" width="9.69" height="9.06" fill="#ac0830"/>
<rect x="248.44" y="336.91" width="9.69" height="9.06" fill="#ac0830"/>
<rect x="258.14" y="336.91" width="9.69" height="9.06" fill="#ac0830"/>
<rect x="267.83" y="336.91" width="9.69" height="9.06" fill="#ac0830"/>
<rect x="277.52" y="336.91" width="9.69" height="9.06" fill="#ac0830"/>
<rect x="287.22" y="336.91" width="9.69" height="9.06" fill="#ac0830"/>
<rect x="296.91" y="336.91" width="9.69" height="9.06" fill="#ac0830"/>
<rect x="306.61" y="336.91" width="9.69" height="9.06" fill="#ac0830"/>
<rect x="161.19" y="345.98" width="9.69" height="9.06" fill="#ac0830"/>
<rect x="170.89" y="345.98" width="9.69" height="9.06" fill="#ac0830"/>
<rect x="180.58" y="345.98" width="9.69" height="9.06" fill="#ac0830"/>
<rect x="190.28" y="345.98" width="9.69" height="9.06" fill="#ac0830"/>
<rect x="199.97" y="345.98" width="9.69" height="9.06" fill="#ac0830"/>
<rect x="209.66" y="345.98" width="9.69" height="9.06" fill="#ac0830"/>
<rect x="219.36" y="345.98" width="9.69" height="9.06" fill="#ac0830"/>
<rect x="229.05" y="345.98" width="9.69" height="9.06" fill="#ac0830"/>
<rect x="238.75" y="345.98" width="9.69" height="9.06" fill="#ac0830"/>
<rect x="277.52" y="345.98" width="9.69" height="9.06" fill="#ac0830"/>
<rect x="287.22" y="345.98" width="9.69" height="9.06" fill="#ac0830"/>
<rect x="296.91" y="345.98" width="9.69" height="9.06" fill="#ac0830"/>
<rect x="306.61" y="345.98" width="9.69" height="9.06" fill="#ac0830"/>
<rect x="151.50" y="355.04" width="9.69" height="9.06" fill="#ac0830"/>
<rect x="161.19" y="355.04" width="9.69" height="9.06" fill="#ac0830"/>
<rect x="170.89" y="355.04" width="9.69" height="9.06" fill="#ac0830"/>
<rect x="180.58" y="355.04" width="9.69" height="9.06" fill="#ac0830"/>
<rect x="190.28" y="355.04" width="9.69" height="9.06" fill="#ac0830"/>
<rect x="199.97" y="355.04" width="9.69" height="9.06" fill="#ac0830"/>
<rect x="209.66" y="355.04" width="9.69" height="9.06" fill="#ac0830"/>
<rect x="219.36" y="355.04" width="9.69" height="9.06" fill="#ac0830"/>
<rect x="229.05" y="355.04" width="9.69" height="9.06" fill="#ac0830"/>
<rect x="238.75" y="355.04" width="9.69" height="9.06" fill="#ac0830"/>
<rect x="248.44" y="355.04" width="9.69" height="9.06" fill="#ac0830"/>
<rect x="258.14" y="355.04" width="9.69" height="9.06" fill="#ac0830"/>
<rect x="267.83" y="355.04" width="9.69" height="9.06" fill="#ac0830"/>
<rect x="277.52" y="355.04" width="9.69" height="9.06" fill="#ac0830"/>
<rect x="287.22" y="355.04" width="9.69" height="9.06" fill="#ac0830"/>
<rect x="296.91" y="355.04" width="9.69" height="9.06" fill="#ac0830"/>
<rect x="306.61" y="355.04" width="9.69" height="9.06" fill="#ac0830"/>
<rect x="151.50" y="364.10" width="9.69" height="9.06" fill="#ac0830"/>
<rect x="161.19" y="364.10" width="9.69" height="9.06" fill="#ac0830"/>
<rect x="170.89" y="364.10" width="9.69" height="9.06" fill="#ac0830"/>
<rect x="180.58" y="364.10" width="9.69" height="9.06" fill="#ac0830"/>
<rect x="190.28" y="364.10" width="9.69" height="9.06" fill="#ac0830"/>
<rect x="199.97" y="364.10" width="9.69" height="9.06" fill="#ac0830"/>
<rect x="209.66" y="364.10" width="9.69" height="9.06" fill="#ac0830"/>
<rect x="219.36" y="364.10" width="9.69" height="9.06" fill="#ac0830"/>
<rect x="238.75" y="364.10" width="9.69" height="9.06" fill="#ac0830"/>
<rect x="248.44" y="364.10" width="9.69" height="9.06" fill="#ac0830"/>
<rect x="258.14" y="364.10" width="9.69" height="9.06" fill="#ac0830"/>
<rect x="267.83" y="364.10" width="9.69" height="9.06" fill="#ac0830"/>
<rect x="277.52" y="364.10" width="9.69" height="9.06" fill="#ac0830"/>
<rect x="287.22" y="364.10" width="9.69" height="9.06" fill="#ac0830"/>
<rect x="296.91" y="364.10" width="9.69" height="9.06" fill="#ac0830"/>
<rect x="306.61" y="364.10" width="9.69" height="9.06" fill="#ac0830"/>
<rect x="151.50" y="373.16" width="9.69" height="9.06" fill="#ac0830"/>
<rect x="161.19" y="373.16" width="9.69" height="9.06" fill="#ac0830"/>
<rect x="170.89" y="373.16" width="9.69" height="9.06" fill="#ac0830"/>
<rect x="180.58" y="373.16" width="9.69" height="9.06" fill="#ac0830"/>
<rect x="190.28" y="373.16" width="9.69" height="9.06" fill="#ac0830"/>
<rect x="199.97" y="373.16" width="9.69" height="9.06" fill="#ac0830"/>
<rect x="209.66" y="373.16" width="9.69" height="9.06" fill="#ac0830"/>
<rect x="219.36" y="373.16" width="9.69" height="9.06" fill="#ac0830"/>
<rect x="238.75" y="373.16" width="9.69" height="9.06" fill="#ac0830"/>
<rect x="248.44" y="373.16" width="9.69" height="9.06" fill="#ac0830"/>
<rect x="258.14" y="373.16" width="9.69" height="9.06" fill="#ac0830"/>
<rect x="267.83" y="373.16" width="9.69" height="9.06" fill="#ac0830"/>
<rect x="277.52" y="373.16" width="9.69" height="9.06" fill="#ac0830"/>
<rect x="287.22" y="373.16" width="9.69" height="9.06" fill="#ac0830"/>
<rect x="296.91" y="373.16" width="9.69" height="9.06" fill="#ac0830"/>
<rect x="306.61" y="373.16" width="9.69" height="9.06" fill="#ac0830"/>
<rect x="151.50" y="382.23" width="9.69" height="9.06" fill="#ac0830"/>
<rect x="161.19" y="382.23" width="9.69" height="9.06" fill="#ac0830"/>
<rect x="170.89" y="382.23" width="9.69" height="9.06" fill="#ac0830"/>
<rect x="180.58" y="382.23" width="9.69" height="9.06" fill="#ac0830"/>
<rect x="190.28" y="382.23" width="9.69" height="9.06" fill="#ac0830"/>
<rect x="199.97" y="382.23" width="9.69" height="9.06" fill="#ac0830"/>
<rect x="219.36" y="382.23" width="9.69" height="9.06" fill="#ac0830"/>
<rect x="229.05" y="382.23" width="9.69" height="9.06" fill="#ac0830"/>
<rect x="238.75" y="382.23" width="9.69" height="9.06" fill="#ac0830"/>
<rect x="248.44" y="382.23" width="9.69" height="9.06" fill="#ac0830"/>
<rect x="258.14" y="382.23" width="9.69" height="9.06" fill="#ac0830"/>
<rect x="267.83" y="382.23" width="9.69" height="9.06" fill="#ac0830"/>
<rect x="277.52" y="382.23" width="9.69" height="9.06" fill="#ac0830"/>
<rect x="287.22" y="382.23" width="9.69" height="9.06" fill="#ac0830"/>
<rect x="296.91" y="382.23" width="9.69" height="9.06" fill="#ac0830"/>
<path d="M151.50 119.4V391.29M161.19 119.4V391.29M170.89 119.4V391.29M180.58 119.4V391.29M190.28 119.4V391.29M199.97 119.4V391.29M209.66 119.4V391.29M219.36 119.4V391.29M229.05 119.4V391.29M238.75 119.4V391.29M248.44 119.4V391.29M258.14 119.4V391.29M267.83 119.4V391.29M277.52 119.4V391.29M287.22 119.4V391.29M296.91 119.4V391.29M306.61 119.4V391.29M316.30 119.4V391.29M151.5 119.40H316.30M151.5 128.46H316.30M151.5 137.53H316.30M151.5 146.59H316.30M151.5 155.65H316.30M151.5 164.72H316.30M151.5 173.78H316.30M151.5 182.84H316.30M151.5 191.90H316.30M151.5 200.97H316.30M151.5 210.03H316.30M151.5 219.09H316.30M151.5 228.16H316.30M151.5 237.22H316.30M151.5 246.28H316.30M151.5 255.35H316.30M151.5 264.41H316.30M151.5 273.47H316.30M151.5 282.53H316.30M151.5 291.60H316.30M151.5 300.66H316.30M151.5 309.72H316.30M151.5 318.79H316.30M151.5 327.85H316.30M151.5 336.91H316.30M151.5 345.98H316.30M151.5 355.04H316.30M151.5 364.10H316.30M151.5 373.16H316.30M151.5 382.23H316.30M151.5 391.29H316.30" stroke="#000" stroke-width="0.95" fill="none" stroke-linecap="square"/>
<text font-size="7.2" fill="#231f20" stroke="#231f20" stroke-width="0.22" transform="translate(158.75,115.20) rotate(-90)">KOPT-K1 (T-ALL)</text>
<text font-size="7.2" fill="#231f20" stroke="#231f20" stroke-width="0.22" transform="translate(168.44,115.20) rotate(-90)">Jurkat (T-ALL)</text>
<text font-size="7.2" fill="#231f20" stroke="#231f20" stroke-width="0.22" transform="translate(178.14,115.20) rotate(-90)">Thymus</text>
<text font-size="7.2" fill="#231f20" stroke="#231f20" stroke-width="0.22" transform="translate(187.83,115.20) rotate(-90)">Th1</text>
<text font-size="7.2" fill="#231f20" stroke="#231f20" stroke-width="0.22" transform="translate(197.52,115.20) rotate(-90)">Th2</text>
<text font-size="7.2" fill="#231f20" stroke="#231f20" stroke-width="0.22" transform="translate(207.22,115.20) rotate(-90)">Th17</text>
<text font-size="7.2" fill="#231f20" stroke="#231f20" stroke-width="0.22" transform="translate(216.91,115.20) rotate(-90)">TL-Om1</text>
<text font-size="7.2" fill="#231f20" stroke="#231f20" stroke-width="0.22" transform="translate(226.61,115.20) rotate(-90)">ATL1</text>
<text font-size="7.2" fill="#231f20" stroke="#231f20" stroke-width="0.22" transform="translate(236.30,115.20) rotate(-90)">ATL2</text>
<text font-size="7.2" fill="#231f20" stroke="#231f20" stroke-width="0.22" transform="translate(245.99,115.20) rotate(-90)">ATL3</text>
<text font-size="7.2" fill="#231f20" stroke="#231f20" stroke-width="0.22" transform="translate(255.69,115.20) rotate(-90)">ATL4</text>
<text font-size="7.2" fill="#231f20" stroke="#231f20" stroke-width="0.22" transform="translate(265.38,115.20) rotate(-90)">ATL5</text>
<text font-size="7.2" fill="#231f20" stroke="#231f20" stroke-width="0.22" transform="translate(275.08,115.20) rotate(-90)">ATL6</text>
<text font-size="7.2" fill="#231f20" stroke="#231f20" stroke-width="0.22" transform="translate(284.77,115.20) rotate(-90)">ATL7</text>
<text font-size="7.2" fill="#231f20" stroke="#231f20" stroke-width="0.22" transform="translate(294.46,115.20) rotate(-90)">ATL8</text>
<text font-size="7.2" fill="#231f20" stroke="#231f20" stroke-width="0.22" transform="translate(304.16,115.20) rotate(-90)">ATL9</text>
<text font-size="7.2" fill="#231f20" stroke="#231f20" stroke-width="0.22" transform="translate(313.85,115.20) rotate(-90)">ATL10</text>
<text font-size="13.4" font-weight="bold" fill="#000" stroke="#000" stroke-width="0.7" stroke-linejoin="round" x="9.00" y="420.80">B</text>
<text font-size="3.6" fill="#231f20" textLength="9.3" lengthAdjust="spacingAndGlyphs" x="186.40" y="412.40">50 kb</text>
<path d="M197.4 409.9V412.8M250.7 409.9V412.8M197.4 411.3H250.7" stroke="#000" stroke-width="0.7" fill="none"/>
<text font-size="3.6" fill="#231f20" textLength="8.6" lengthAdjust="spacingAndGlyphs" x="251.80" y="412.00">hg19</text>
<text font-size="2.6" fill="#444" textLength="16.6" lengthAdjust="spacingAndGlyphs" x="144.80" y="415.70">32,900,000|</text>
<text font-size="2.6" fill="#444" textLength="16.6" lengthAdjust="spacingAndGlyphs" x="198.00" y="415.70">32,950,000|</text>
<text font-size="2.6" fill="#444" textLength="16.6" lengthAdjust="spacingAndGlyphs" x="251.20" y="415.70">33,000,000|</text>
<path d="M196.3 419.4H198.9L197.6 426.1Z" fill="#a80a2e"/>
<text font-size="7.3" text-anchor="middle" fill="#231f20" stroke="#231f20" stroke-width="0.22" textLength="32" lengthAdjust="spacingAndGlyphs" x="43.30" y="437.50">IRF4 ChIP</text>
<text font-size="7.3" text-anchor="middle" fill="#231f20" stroke="#231f20" stroke-width="0.22" textLength="30.2" lengthAdjust="spacingAndGlyphs" x="43.30" y="449.30">p65 ChIP</text>
<text font-size="7.3" fill="#231f20" stroke="#231f20" stroke-width="0.22" textLength="26.2" lengthAdjust="spacingAndGlyphs" x="77.80" y="437.50">TL-Om1</text>
<text font-size="7.3" fill="#231f20" stroke="#231f20" stroke-width="0.22" textLength="26.2" lengthAdjust="spacingAndGlyphs" x="77.80" y="449.30">TL-Om1</text>
<text font-size="7.3" fill="#231f20" stroke="#231f20" stroke-width="0.22" x="78.10" y="464.20">TL-Om1</text>
<text font-size="7.3" fill="#231f20" stroke="#231f20" stroke-width="0.22" x="78.10" y="478.97">ATL1</text>
<text font-size="7.3" fill="#231f20" stroke="#231f20" stroke-width="0.22" x="78.10" y="493.74">ATL2</text>
<text font-size="7.3" fill="#231f20" stroke="#231f20" stroke-width="0.22" x="78.10" y="508.51">ATL3</text>
<text font-size="7.3" fill="#231f20" stroke="#231f20" stroke-width="0.22" x="78.10" y="523.28">ATL4</text>
<text font-size="7.3" fill="#231f20" stroke="#231f20" stroke-width="0.22" x="78.10" y="538.05">ATL5</text>
<text font-size="7.3" fill="#231f20" stroke="#231f20" stroke-width="0.22" x="78.10" y="552.82">ATL6</text>
<text font-size="7.3" fill="#231f20" stroke="#231f20" stroke-width="0.22" x="78.10" y="567.59">ATL7</text>
<text font-size="7.3" fill="#231f20" stroke="#231f20" stroke-width="0.22" x="78.10" y="582.36">ATL8</text>
<text font-size="7.3" fill="#231f20" stroke="#231f20" stroke-width="0.22" x="78.10" y="597.13">ATL9</text>
<text font-size="7.3" fill="#231f20" stroke="#231f20" stroke-width="0.22" x="78.10" y="611.90">ATL10</text>
<text font-size="7.3" fill="#231f20" stroke="#231f20" stroke-width="0.22" x="78.10" y="625.60">Th1</text>
<text font-size="7.3" fill="#231f20" stroke="#231f20" stroke-width="0.22" x="78.10" y="640.20">Th2</text>
<text font-size="7.3" fill="#231f20" stroke="#231f20" stroke-width="0.22" x="78.10" y="654.80">Th17</text>
<path d="M43.1 459.4V697.1M74.3 459.4V609.6M74.3 614.5V654.9" stroke="#231f20" stroke-width="1.1" fill="none"/>
<text font-size="7.3" text-anchor="middle" fill="#231f20" stroke="#231f20" stroke-width="0.22" x="57.90" y="537.40">ATL</text>
<text font-size="7.3" text-anchor="middle" fill="#231f20" stroke="#231f20" stroke-width="0.22" x="57.90" y="628.30">Normal</text>
<text font-size="7.3" text-anchor="middle" fill="#231f20" stroke="#231f20" stroke-width="0.22" x="57.90" y="637.15">CD4+</text>
<text font-size="7.3" text-anchor="middle" fill="#231f20" stroke="#231f20" stroke-width="0.22" x="57.90" y="646.00">T-cell</text>
<text font-size="7.3" fill="#231f20" stroke="#231f20" stroke-width="0.22" textLength="50.5" lengthAdjust="spacingAndGlyphs" x="47.10" y="669.20">Normal thymus</text>
<text font-size="7.3" fill="#231f20" stroke="#231f20" stroke-width="0.22" textLength="45.5" lengthAdjust="spacingAndGlyphs" x="47.10" y="681.00">Jurkat (T-ALL)</text>
<text font-size="7.3" fill="#231f20" stroke="#231f20" stroke-width="0.22" textLength="54.1" lengthAdjust="spacingAndGlyphs" x="47.10" y="692.90">KOPT-K1 (T-ALL)</text>
<text font-size="7.3" fill="#231f20" stroke="#231f20" stroke-width="0.22" textLength="46.5" lengthAdjust="spacingAndGlyphs" transform="translate(37.60,601.50) rotate(-90)">H3K27ac ChIP</text>
<text font-size="7.3" text-anchor="end" fill="#231f20" stroke="#231f20" stroke-width="0.22" x="122.50" y="431.40">3.0</text>
<text font-size="7.3" text-anchor="end" fill="#231f20" stroke="#231f20" stroke-width="0.22" x="122.50" y="443.80">2.6</text>
<text font-size="7.3" text-anchor="end" fill="#231f20" stroke="#231f20" stroke-width="0.22" x="122.50" y="456.60">5.7</text>
<text font-size="7.3" text-anchor="end" fill="#231f20" stroke="#231f20" stroke-width="0.22" x="122.50" y="471.40">6.2</text>
<text font-size="7.3" text-anchor="end" fill="#231f20" stroke="#231f20" stroke-width="0.22" x="122.50" y="486.30">1.7</text>
<text font-size="7.3" text-anchor="end" fill="#231f20" stroke="#231f20" stroke-width="0.22" x="122.50" y="501.30">6.6</text>
<text font-size="7.3" text-anchor="end" fill="#231f20" stroke="#231f20" stroke-width="0.22" x="122.50" y="516.10">6.1</text>
<text font-size="7.3" text-anchor="end" fill="#231f20" stroke="#231f20" stroke-width="0.22" x="122.50" y="531.20">3.6</text>
<text font-size="7.3" text-anchor="end" fill="#231f20" stroke="#231f20" stroke-width="0.22" x="122.50" y="546.00">5.7</text>
<text font-size="7.3" text-anchor="end" fill="#231f20" stroke="#231f20" stroke-width="0.22" x="122.50" y="560.80">8.3</text>
<text font-size="7.3" text-anchor="end" fill="#231f20" stroke="#231f20" stroke-width="0.22" x="122.50" y="575.60">8.5</text>
<text font-size="7.3" text-anchor="end" fill="#231f20" stroke="#231f20" stroke-width="0.22" x="122.50" y="590.70">12.3</text>
<text font-size="7.3" text-anchor="end" fill="#231f20" stroke="#231f20" stroke-width="0.22" x="122.50" y="605.50">7.2</text>
<text font-size="7.3" text-anchor="end" fill="#231f20" stroke="#231f20" stroke-width="0.22" x="122.50" y="618.40">7.5</text>
<text font-size="7.3" text-anchor="end" fill="#231f20" stroke="#231f20" stroke-width="0.22" x="122.50" y="632.90">9.6</text>
<text font-size="7.3" text-anchor="end" fill="#231f20" stroke="#231f20" stroke-width="0.22" x="122.50" y="647.50">14</text>
<text font-size="7.3" text-anchor="end" fill="#231f20" stroke="#231f20" stroke-width="0.22" x="122.50" y="662.60">4.3</text>
<text font-size="7.3" text-anchor="end" fill="#231f20" stroke="#231f20" stroke-width="0.22" x="122.50" y="675.00">2.4</text>
<text font-size="7.3" text-anchor="end" fill="#231f20" stroke="#231f20" stroke-width="0.22" x="122.50" y="686.80">7.6</text>
<path d="M124.7 428.8H128.6M124.7 441.2H128.6M124.7 454.0H128.6M124.7 468.8H128.6M124.7 483.7H128.6M124.7 498.7H128.6M124.7 513.5H128.6M124.7 528.6H128.6M124.7 543.4H128.6M124.7 558.2H128.6M124.7 573.0H128.6M124.7 588.1H128.6M124.7 602.9H128.6M124.7 615.8H128.6M124.7 630.3H128.6M124.7 644.9H128.6M124.7 660.0H128.6M124.7 672.4H128.6M124.7 684.2H128.6" stroke="#000" stroke-width="0.9" fill="none"/>
<path d="M153.50 464.40L153.50 464.40L154.05 462.07L154.60 456.09L155.15 459.53L155.70 458.60L156.25 460.67L156.80 462.24L157.35 461.71L157.90 462.99L158.45 462.44L159.00 463.22L159.55 463.33L160.10 463.03L160.65 462.54L161.20 463.40L161.75 463.28L162.30 462.12L162.85 460.01L163.40 459.77L163.95 461.10L164.50 460.95L165.05 463.54L165.60 463.51L166.15 464.20L166.70 464.23L167.25 464.23L167.80 464.19L168.35 464.09L168.90 464.22L169.45 464.14L170.00 464.12L170.55 464.18L171.10 464.14L171.65 464.24L172.20 464.24L172.75 464.21L173.30 464.12L173.85 464.17L174.40 464.19L174.95 464.14L175.50 464.16L176.05 464.15L176.60 463.10L177.15 462.19L177.70 461.81L178.25 461.30L178.80 464.40Z" fill="#4a5162"/>
<path d="M192.50 464.40L192.50 464.40L193.05 461.49L193.60 458.50L194.15 458.60L194.70 457.53L195.25 462.14L195.80 461.66L196.35 461.28L196.90 461.05L197.45 456.53L198.00 460.00L198.55 460.44L199.10 460.63L199.65 461.53L200.20 461.16L200.75 462.32L201.30 461.53L201.85 461.74L202.40 460.88L202.95 460.11L203.50 456.47L204.05 454.16L204.60 460.71L205.15 464.27L205.20 464.40Z" fill="#4a5162"/>
<path d="M268.89 464.40L270.24 461.40L271.18 457.90L272.26 461.40L273.61 464.40Z" fill="#4a5162" stroke="#4a5162" stroke-width="0.35" stroke-linejoin="round"/>
<path d="M306.92 464.40L308.00 456.90L309.08 464.40Z" fill="#4a5162" stroke="#4a5162" stroke-width="0.35" stroke-linejoin="round"/>
<path d="M304.32 464.40L305.00 462.90L305.68 464.40Z" fill="#4a5162" stroke="#4a5162" stroke-width="0.35" stroke-linejoin="round"/>
<rect x="153.8" y="464.1" width="24.7" height="3.2" fill="#a80a2e"/>
<rect x="192.9" y="464.1" width="11.9" height="3.2" fill="#a80a2e"/>
<path d="M290.97 464.40v-0.72h0.72v0.72zM305.89 464.40v-0.79h0.54v0.79zM296.17 464.40v-0.70h0.41v0.70z" fill="#4a5162" opacity="0.4"/>
<path d="M150.00 478.80L150.00 478.80L150.55 477.99L151.10 476.99L151.65 476.40L152.20 472.68L152.75 474.55L153.30 473.00L153.85 471.04L154.40 468.29L154.95 474.39L155.50 473.41L156.05 472.52L156.60 470.31L157.15 470.50L157.70 471.02L158.25 474.43L158.80 474.36L159.35 474.61L159.90 472.13L160.45 471.41L161.00 474.82L161.55 475.13L162.10 475.35L162.65 475.79L163.20 475.34L163.75 475.03L164.30 475.99L164.85 476.76L165.40 475.83L165.95 476.34L166.50 476.33L167.05 476.11L167.60 476.65L168.15 477.01L168.70 476.96L169.25 476.98L169.80 477.87L170.35 476.92L170.90 477.18L171.45 477.19L172.00 477.37L172.55 477.84L173.10 477.88L173.65 478.08L174.20 477.50L174.75 478.00L175.30 477.94L175.85 477.72L176.40 477.61L176.95 477.13L177.50 477.42L178.05 477.34L178.60 476.62L179.15 476.36L179.70 475.04L180.25 475.77L180.80 470.81L181.35 471.00L181.90 473.78L182.45 474.60L183.00 475.74L183.55 476.20L184.10 477.19L184.65 476.46L185.20 476.73L185.75 477.38L186.30 477.36L186.85 477.85L187.40 477.83L187.95 477.53L188.50 477.43L189.05 476.27L189.60 477.18L190.15 477.28L190.70 474.90L191.25 475.61L191.80 476.41L192.35 474.66L192.90 475.92L193.45 473.11L194.00 471.40L194.55 472.42L195.10 473.30L195.65 474.32L196.20 473.03L196.75 473.48L197.30 470.03L197.85 472.68L198.40 472.90L198.95 474.62L199.50 474.75L200.05 471.66L200.60 470.42L201.15 470.70L201.70 470.57L202.25 469.84L202.80 469.35L203.35 472.13L203.90 470.68L204.45 472.81L205.00 475.40L205.55 475.76L206.10 475.17L206.65 475.71L207.20 474.56L207.75 473.22L208.30 474.57L208.85 472.90L209.40 473.26L209.95 473.91L210.50 475.23L211.05 475.27L211.60 474.79L212.15 474.52L212.70 474.19L213.25 471.59L213.80 470.70L214.35 472.52L214.90 475.15L215.45 475.11L216.00 475.07L216.55 477.04L217.10 476.00L217.65 475.49L218.20 475.75L218.75 475.82L219.30 476.08L219.85 476.36L220.40 473.92L220.95 474.92L221.50 472.64L222.05 471.38L222.60 473.59L223.15 473.21L223.70 469.87L224.25 470.50L224.80 473.33L225.35 473.19L225.90 472.61L226.45 467.23L227.00 468.32L227.55 473.16L228.10 468.80L228.65 467.37L229.20 469.25L229.75 471.16L230.30 469.73L230.85 473.00L231.40 474.00L231.95 467.89L232.50 469.83L233.05 470.45L233.60 468.10L234.15 473.91L234.70 474.75L235.25 476.31L235.80 477.24L236.35 476.27L236.90 475.21L237.45 476.35L238.00 477.23L238.55 477.85L239.10 477.92L239.65 478.32L240.20 478.07L240.75 478.33L241.30 478.30L241.85 478.25L242.40 478.13L242.95 478.34L243.50 478.16L244.05 478.33L244.60 478.33L245.15 478.35L245.70 478.54L246.25 478.40L246.80 478.50L247.35 478.57L247.90 478.31L248.45 478.36L249.00 477.93L249.55 477.37L250.10 477.22L250.65 477.28L251.20 476.71L251.75 476.35L252.30 475.56L252.85 476.86L253.40 475.45L253.95 476.06L254.50 476.17L255.05 475.17L255.60 476.11L256.15 476.29L256.70 476.23L257.25 476.33L257.80 477.32L258.35 477.20L258.90 477.33L259.45 477.32L260.00 477.10L260.55 476.61L261.10 475.57L261.65 474.87L262.20 471.66L262.75 470.65L263.30 469.83L263.85 471.88L264.40 475.33L264.95 474.54L265.50 473.63L266.05 474.29L266.60 476.36L267.15 476.41L267.70 475.47L268.25 476.39L268.80 475.40L269.35 475.63L269.90 472.49L270.45 471.02L271.00 469.37L271.55 473.35L272.10 471.13L272.65 472.77L273.20 475.68L273.75 473.29L274.30 473.40L274.85 476.06L275.40 474.25L275.95 476.05L276.50 476.11L277.05 475.36L277.60 476.04L278.15 477.45L278.70 477.29L279.25 477.20L279.80 477.20L280.35 477.21L280.90 476.75L281.45 475.88L282.00 477.33L282.55 476.28L283.10 477.04L283.65 478.02L284.20 478.05L284.75 478.17L285.30 478.49L285.60 478.80Z" fill="#4a5162"/>
<path d="M307.06 478.80L308.00 471.80L308.94 478.80Z" fill="#4a5162" stroke="#4a5162" stroke-width="0.35" stroke-linejoin="round"/>
<rect x="150" y="478.5" width="135.6" height="3.2" fill="#a80a2e"/>
<path d="M291.03 478.80v-0.89h0.79v0.89zM305.55 478.80v-0.36h0.53v0.36zM290.63 478.80v-0.77h0.54v0.77z" fill="#4a5162" opacity="0.4"/>
<path d="M153.30 493.60L153.30 493.60L153.85 490.20L154.40 482.75L154.95 484.20L155.50 489.11L156.05 489.07L156.60 483.85L157.15 485.81L157.70 486.85L158.25 490.84L158.80 491.40L159.35 489.54L159.90 490.31L160.45 491.51L161.00 489.52L161.55 490.60L162.10 490.57L162.65 492.21L163.20 491.19L163.75 492.59L164.30 492.25L164.85 493.28L165.40 493.53L165.95 493.60L166.00 493.60Z" fill="#4a5162"/>
<path d="M179.47 493.60L181.23 486.60L182.85 492.60L183.53 493.60Z" fill="#4a5162" stroke="#4a5162" stroke-width="0.35" stroke-linejoin="round"/>
<path d="M194.00 493.60L194.00 493.60L194.55 493.09L195.10 492.53L195.65 491.44L196.20 491.35L196.75 490.89L197.30 489.88L197.85 490.41L198.40 490.34L198.95 490.59L199.50 490.23L200.05 487.98L200.60 489.31L201.15 487.72L201.70 488.67L202.25 486.93L202.80 488.51L203.35 487.19L203.90 489.50L204.45 486.73L205.00 488.10L205.55 489.99L206.10 489.03L206.65 486.42L207.20 489.97L207.75 487.47L208.30 489.60L208.85 489.95L209.40 489.11L209.95 490.41L210.50 490.08L211.05 489.57L211.60 489.12L212.15 491.08L212.70 490.25L213.25 490.78L213.80 491.08L214.35 491.65L214.90 491.87L215.45 492.45L216.00 492.42L216.55 492.60L217.10 491.84L217.65 492.44L218.20 492.55L218.75 492.65L219.30 491.53L219.85 491.13L220.40 491.13L220.95 491.61L221.50 491.57L222.05 491.34L222.60 490.82L223.15 491.23L223.70 489.17L224.25 488.82L224.80 483.46L225.35 482.45L225.90 485.00L226.45 486.87L227.00 481.25L227.55 487.15L228.10 487.89L228.65 490.14L229.20 487.17L229.75 485.45L230.30 485.14L230.85 487.88L231.40 486.72L231.95 489.40L232.50 487.35L233.05 488.37L233.60 489.81L234.15 492.84L234.70 493.30L235.25 493.41L235.80 493.36L236.35 493.15L236.90 493.06L237.45 493.34L238.00 493.60Z" fill="#4a5162"/>
<path d="M252.65 493.60L254.00 491.60L255.35 493.60Z" fill="#4a5162" stroke="#4a5162" stroke-width="0.35" stroke-linejoin="round"/>
<path d="M262.30 493.60L262.30 493.60L262.85 487.58L263.40 488.28L263.95 492.28L264.50 492.35L265.05 491.54L265.60 492.57L266.15 492.21L266.70 493.32L267.00 493.60Z" fill="#4a5162"/>
<path d="M269.50 493.60L269.50 493.60L270.05 491.48L270.60 488.38L271.15 488.08L271.70 490.40L272.25 491.76L272.80 492.58L273.35 492.11L273.90 492.13L274.45 492.79L275.00 493.60Z" fill="#4a5162"/>
<path d="M307.19 493.60L308.00 484.60L308.81 493.60Z" fill="#4a5162" stroke="#4a5162" stroke-width="0.35" stroke-linejoin="round"/>
<rect x="153.8" y="493.3" width="10.6" height="3.2" fill="#a80a2e"/>
<rect x="197.1" y="493.3" width="36.6" height="3.2" fill="#a80a2e"/>
<path d="M302.87 493.60v-0.80h0.69v0.80zM304.29 493.60v-0.71h0.75v0.71zM293.68 493.60v-0.32h0.47v0.32z" fill="#4a5162" opacity="0.4"/>
<path d="M150.00 508.50L150.00 508.50L150.55 508.36L151.10 507.69L151.65 507.32L152.20 506.45L152.75 505.20L153.30 503.73L153.85 503.45L154.40 505.51L154.95 503.76L155.50 505.52L156.05 506.40L156.60 506.73L157.15 506.87L157.70 507.64L158.25 506.99L158.80 507.57L159.35 507.80L159.90 507.70L160.45 507.32L161.00 507.76L161.55 507.32L162.10 507.12L162.65 507.52L163.20 507.61L163.75 507.53L164.30 507.36L164.85 507.29L165.40 507.46L165.95 507.49L166.50 507.95L167.05 507.94L167.60 507.90L168.15 507.65L168.70 507.95L169.25 507.86L169.80 508.17L170.35 508.15L170.90 508.06L171.45 507.87L172.00 507.86L172.55 507.87L173.10 508.05L173.65 507.94L174.20 507.97L174.75 507.97L175.30 508.13L175.85 507.77L176.40 508.09L176.95 507.73L177.50 507.75L178.05 508.17L178.60 507.97L179.15 507.81L179.70 507.74L180.25 507.98L180.80 508.06L181.35 508.09L181.90 507.75L182.45 508.09L183.00 507.91L183.55 508.12L184.10 507.94L184.65 507.74L185.20 508.12L185.75 507.80L186.30 507.95L186.85 507.77L187.40 507.86L187.95 508.08L188.50 507.49L189.05 507.50L189.60 507.74L190.15 507.61L190.70 506.71L191.25 506.50L191.80 506.53L192.35 506.53L192.90 505.55L193.45 505.54L194.00 503.99L194.55 506.46L195.10 503.96L195.65 501.95L196.20 504.10L196.75 496.91L197.30 498.18L197.85 501.20L198.40 504.92L198.95 504.88L199.50 505.07L200.05 503.49L200.60 504.39L201.15 504.87L201.70 504.36L202.25 504.91L202.80 505.93L203.35 505.94L203.90 503.94L204.45 505.24L205.00 502.26L205.55 505.13L206.10 505.30L206.65 504.78L207.20 505.75L207.75 504.66L208.30 502.63L208.85 503.65L209.40 504.60L209.95 505.71L210.50 505.18L211.05 505.12L211.60 505.93L212.15 505.58L212.70 506.97L213.25 505.63L213.80 506.33L214.35 505.93L214.90 506.28L215.45 506.83L216.00 507.18L216.55 505.49L217.10 506.91L217.65 506.15L218.20 506.36L218.75 506.45L219.30 505.54L219.85 505.05L220.40 506.37L220.95 505.16L221.50 505.80L222.05 504.80L222.60 505.02L223.15 505.54L223.70 505.35L224.25 504.86L224.80 501.23L225.35 502.51L225.90 503.45L226.45 499.82L227.00 499.75L227.55 502.87L228.10 504.50L228.65 503.81L229.20 503.96L229.75 501.98L230.30 503.49L230.85 502.78L231.40 502.90L231.95 501.37L232.50 499.96L233.05 501.07L233.60 503.08L234.15 503.72L234.70 505.03L235.25 506.52L235.80 507.07L236.35 507.68L236.90 507.66L237.45 507.41L238.00 508.12L238.55 507.95L239.10 507.89L239.65 507.79L240.20 508.08L240.75 508.06L241.30 508.07L241.85 508.00L242.40 507.98L242.95 507.74L243.50 507.79L244.05 507.78L244.60 508.17L245.15 508.17L245.70 507.86L246.25 507.77L246.80 507.96L247.35 507.91L247.90 508.18L248.45 508.00L249.00 507.76L249.55 507.80L250.10 507.76L250.65 507.54L251.20 507.87L251.75 507.88L252.30 507.70L252.85 507.09L253.40 506.70L253.95 506.18L254.50 506.33L255.05 506.27L255.60 505.74L256.15 506.20L256.70 506.30L257.25 507.38L257.80 506.57L258.35 507.37L258.90 506.52L259.45 506.86L260.00 507.28L260.55 506.93L261.10 506.02L261.65 504.03L262.20 502.43L262.75 503.80L263.30 504.35L263.85 504.28L264.40 504.75L264.95 505.32L265.50 505.81L266.05 504.73L266.60 506.62L267.15 506.08L267.70 505.97L268.25 504.73L268.80 504.80L269.35 503.38L269.90 504.13L270.45 504.21L271.00 503.22L271.55 500.83L272.10 503.40L272.65 505.65L273.20 506.70L273.75 505.87L274.30 505.94L274.85 506.80L275.40 507.38L275.95 507.34L276.50 507.57L277.05 508.20L277.50 508.50Z" fill="#4a5162"/>
<path d="M307.32 508.50L308.00 503.50L308.68 508.50Z" fill="#4a5162" stroke="#4a5162" stroke-width="0.35" stroke-linejoin="round"/>
<rect x="150" y="508.2" width="127.5" height="3.2" fill="#a80a2e"/>
<path d="M290.55 508.50v-0.50h0.61v0.50zM300.92 508.50v-0.42h0.80v0.42zM301.83 508.50v-0.60h0.50v0.60z" fill="#4a5162" opacity="0.4"/>
<path d="M150.00 523.10L150.00 523.10L150.55 521.41L151.10 518.49L151.65 517.58L152.20 516.06L152.75 513.22L153.30 514.19L153.85 512.24L154.40 513.86L154.95 514.98L155.50 514.74L156.05 513.98L156.60 513.02L157.15 512.06L157.70 514.96L158.25 514.50L158.80 515.34L159.35 513.13L159.90 515.41L160.45 515.54L161.00 515.38L161.55 514.67L162.10 513.54L162.65 513.94L163.20 514.52L163.75 513.61L164.30 513.61L164.85 515.15L165.40 515.73L165.95 514.00L166.50 514.86L167.05 516.99L167.60 515.88L168.15 516.95L168.70 517.45L169.25 518.14L169.80 519.00L170.35 519.53L170.90 519.28L171.45 519.32L172.00 518.69L172.55 519.95L173.10 519.16L173.65 520.23L174.20 520.26L174.75 520.02L175.30 520.18L175.85 520.63L176.40 521.05L176.95 520.80L177.50 520.97L178.05 520.68L178.60 521.34L179.15 521.37L179.70 521.20L180.25 521.80L180.80 521.69L181.35 521.60L181.90 521.73L182.45 522.12L183.00 522.20L183.55 522.30L184.10 522.18L184.65 522.48L185.20 522.45L185.75 522.42L186.30 522.54L186.85 522.55L187.40 522.20L187.95 522.01L188.50 521.88L189.05 521.34L189.60 521.00L190.15 520.46L190.70 520.21L191.25 518.72L191.80 517.95L192.35 517.89L192.90 516.81L193.45 518.11L194.00 517.25L194.55 516.25L195.10 514.56L195.65 514.00L196.20 515.06L196.75 515.00L197.30 514.41L197.85 514.55L198.40 513.65L198.95 516.03L199.50 514.07L200.05 513.90L200.60 513.29L201.15 513.14L201.70 513.48L202.25 514.21L202.80 514.08L203.35 514.09L203.90 513.09L204.45 515.55L205.00 515.49L205.55 513.71L206.10 515.05L206.65 515.45L207.20 515.56L207.75 514.31L208.30 515.28L208.85 513.81L209.40 514.04L209.95 513.57L210.50 515.43L211.05 515.80L211.60 515.63L212.15 514.28L212.70 513.47L213.25 514.33L213.80 515.27L214.35 515.06L214.90 514.82L215.45 514.88L216.00 514.86L216.55 514.78L217.10 515.32L217.65 516.40L218.20 514.16L218.75 515.35L219.30 514.33L219.85 514.74L220.40 513.48L220.95 514.97L221.50 514.67L222.05 514.53L222.60 514.68L223.15 512.12L223.70 512.97L224.25 513.66L224.80 513.26L225.35 511.01L225.90 512.55L226.45 513.39L227.00 511.12L227.55 511.86L228.10 510.82L228.65 514.14L229.20 512.87L229.75 511.49L230.30 511.23L230.85 510.78L231.40 514.05L231.95 513.27L232.50 514.04L233.05 513.98L233.60 512.02L234.15 513.95L234.70 513.92L235.25 516.67L235.80 516.99L236.35 518.01L236.90 518.05L237.45 518.45L238.00 520.01L238.55 521.04L239.10 520.96L239.65 521.25L240.20 521.76L240.75 521.95L241.30 522.29L241.85 522.50L242.40 522.55L242.95 522.48L243.50 522.47L244.05 522.56L244.60 522.60L245.15 522.54L245.70 522.47L246.25 522.57L246.80 522.54L247.35 522.56L247.90 522.44L248.45 522.28L249.00 522.19L249.55 521.93L250.10 521.49L250.65 520.95L251.20 520.41L251.75 520.49L252.30 520.15L252.85 519.38L253.40 519.57L253.95 519.58L254.50 519.53L255.05 518.69L255.60 519.53L256.15 519.24L256.70 519.66L257.25 519.74L257.80 519.39L258.35 519.42L258.90 520.24L259.45 520.55L260.00 520.21L260.55 520.13L261.10 519.83L261.65 517.91L262.20 518.03L262.75 516.62L263.30 517.39L263.85 516.91L264.40 518.12L264.95 518.70L265.50 518.95L266.05 518.04L266.60 517.89L267.15 517.44L267.70 518.82L268.25 517.62L268.80 517.46L269.35 516.54L269.90 516.77L270.45 515.84L271.00 514.55L271.55 514.38L272.10 517.24L272.65 517.10L273.20 516.93L273.75 517.12L274.30 518.95L274.85 519.62L275.40 519.23L275.95 519.92L276.50 520.71L277.05 521.32L277.60 521.03L278.15 521.65L278.70 521.71L279.25 522.11L279.80 522.34L280.35 522.62L280.90 522.59L281.45 522.75L282.00 522.79L282.55 522.82L283.00 523.10Z" fill="#4a5162"/>
<path d="M307.06 523.10L308.00 519.10L308.94 523.10Z" fill="#4a5162" stroke="#4a5162" stroke-width="0.35" stroke-linejoin="round"/>
<rect x="150" y="522.8" width="133.0" height="3.2" fill="#a80a2e"/>
<path d="M303.27 523.10v-0.41h0.51v0.41zM296.40 523.10v-0.61h0.59v0.61zM291.97 523.10v-0.45h0.76v0.45z" fill="#4a5162" opacity="0.4"/>
<path d="M150.00 537.50L150.00 537.50L150.55 537.11L151.10 535.76L151.65 534.38L152.20 535.70L152.75 533.22L153.30 534.83L153.85 532.40L154.40 531.78L154.95 530.73L155.50 531.88L156.05 532.35L156.60 532.62L157.15 533.22L157.70 532.33L158.25 533.27L158.80 533.58L159.35 535.19L159.90 533.59L160.45 534.03L161.00 534.77L161.55 533.22L162.10 533.26L162.65 534.56L163.20 535.55L163.75 535.26L164.30 536.21L164.85 536.43L165.40 536.25L165.95 536.74L166.50 536.56L167.05 536.67L167.60 537.10L168.15 536.89L168.70 537.14L169.25 536.84L169.80 536.82L170.35 536.95L170.90 537.16L171.45 536.95L172.00 537.01L172.55 536.74L173.10 537.12L173.65 536.79L174.20 536.72L174.75 536.85L175.30 536.81L175.85 537.09L176.40 536.61L176.95 536.76L177.50 536.29L178.05 536.12L178.60 536.49L179.15 535.24L179.70 534.46L180.25 536.10L180.80 536.05L181.35 535.31L181.90 535.82L182.45 535.42L183.00 537.06L183.55 536.81L184.10 537.12L184.65 536.95L185.20 536.76L185.75 537.09L186.30 537.06L186.85 536.95L187.40 537.04L187.95 537.17L188.50 537.10L189.05 537.11L189.60 536.75L190.15 536.80L190.70 536.37L191.25 536.70L191.80 535.81L192.35 536.28L192.90 535.08L193.45 534.75L194.00 535.33L194.55 534.26L195.10 534.81L195.65 534.15L196.20 532.59L196.75 534.63L197.30 531.65L197.85 533.77L198.40 535.13L198.95 534.03L199.50 534.97L200.05 532.57L200.60 533.93L201.15 534.67L201.70 533.76L202.25 534.29L202.80 534.41L203.35 532.30L203.90 535.06L204.45 533.01L205.00 535.00L205.55 534.40L206.10 534.07L206.65 535.04L207.20 535.04L207.75 535.80L208.30 536.41L208.85 536.44L209.40 536.37L209.95 535.88L210.50 535.89L211.05 535.50L211.60 534.49L212.15 535.69L212.70 535.04L213.25 533.64L213.80 535.57L214.35 535.73L214.90 535.37L215.45 536.37L216.00 536.63L216.55 536.84L217.10 536.71L217.65 536.83L218.20 536.96L218.75 536.15L219.30 535.78L219.85 535.90L220.40 533.38L220.95 534.53L221.50 534.28L222.05 534.10L222.60 531.13L223.15 529.50L223.70 529.47L224.25 531.22L224.80 531.77L225.35 533.12L225.90 528.82L226.45 529.30L227.00 530.69L227.55 528.76L228.10 530.03L228.65 526.37L229.20 527.40L229.75 530.61L230.30 526.49L230.85 533.16L231.40 531.50L231.95 532.61L232.50 533.67L233.05 534.70L233.60 533.43L234.15 536.14L234.70 535.67L235.25 535.50L235.80 536.48L236.35 536.41L236.90 535.91L237.45 536.46L238.00 536.89L238.55 536.83L239.10 537.12L239.65 537.07L240.20 537.09L240.75 537.20L241.30 536.88L241.85 536.94L242.40 536.98L242.95 537.25L243.50 536.96L244.05 537.01L244.60 537.12L245.15 537.04L245.70 537.15L246.25 537.23L246.80 537.27L247.35 537.24L247.90 537.31L248.45 537.03L249.00 536.47L249.55 536.13L250.10 535.55L250.65 535.40L251.20 535.85L251.75 535.06L252.30 535.02L252.85 533.89L253.40 534.25L253.95 534.71L254.50 533.58L255.05 532.62L255.60 534.83L256.15 533.29L256.70 536.28L257.25 536.53L257.80 536.94L258.35 536.80L258.90 536.62L259.45 536.65L260.00 536.85L260.55 536.42L261.10 536.74L261.65 536.76L262.20 535.80L262.75 535.19L263.30 535.17L263.85 536.14L264.40 536.25L264.95 536.75L265.50 536.66L266.05 536.85L266.60 536.57L267.15 536.67L267.70 536.25L268.25 536.21L268.80 536.33L269.35 536.13L269.90 534.89L270.45 535.91L271.00 534.18L271.55 535.77L272.10 536.02L272.65 535.85L273.20 534.15L273.75 535.36L274.30 535.88L274.85 536.27L275.40 536.42L275.95 535.77L276.50 535.88L277.05 535.80L277.60 535.75L278.15 536.60L278.70 536.11L279.25 536.47L279.80 536.19L280.35 536.35L280.90 536.46L281.45 537.08L282.00 536.78L282.55 537.05L283.00 537.50Z" fill="#4a5162"/>
<path d="M306.92 537.50L308.00 533.50L309.08 537.50Z" fill="#4a5162" stroke="#4a5162" stroke-width="0.35" stroke-linejoin="round"/>
<rect x="150" y="537.2" width="133.0" height="3.2" fill="#a80a2e"/>
<path d="M305.11 537.50v-0.36h0.50v0.36zM291.79 537.50v-0.32h0.82v0.32zM302.99 537.50v-0.68h0.81v0.68z" fill="#4a5162" opacity="0.4"/>
<path d="M150.00 552.10L150.00 552.10L150.55 551.18L151.10 550.43L151.65 550.25L152.20 548.35L152.75 549.56L153.30 548.86L153.85 547.98L154.40 549.12L154.95 547.66L155.50 548.08L156.05 547.21L156.60 548.95L157.15 548.93L157.70 546.64L158.25 548.19L158.80 547.42L159.35 548.45L159.90 550.26L160.45 549.23L161.00 549.03L161.55 547.94L162.10 549.11L162.65 548.59L163.20 549.45L163.75 550.47L164.30 549.65L164.85 550.96L165.40 550.06L165.95 551.04L166.50 551.39L167.05 551.38L167.60 551.23L168.15 551.33L168.70 551.78L169.25 551.56L169.80 551.56L170.35 551.42L170.90 551.70L171.45 551.55L172.00 551.62L172.55 551.40L173.10 551.65L173.65 551.16L174.20 551.44L174.75 551.39L175.30 550.70L175.85 550.51L176.40 550.75L176.95 549.40L177.50 550.25L178.05 548.02L178.60 547.77L179.15 546.90L179.70 546.81L180.25 547.39L180.80 546.34L181.35 545.30L181.90 542.90L182.45 548.36L183.00 546.05L183.55 550.06L184.10 550.32L184.65 550.65L185.20 550.41L185.75 551.19L186.30 551.43L186.85 551.32L187.40 551.61L187.95 551.37L188.50 551.20L189.05 550.89L189.60 550.74L190.15 550.69L190.70 550.89L191.25 550.57L191.80 550.30L192.35 547.85L192.90 547.48L193.45 546.27L194.00 548.03L194.55 546.94L195.10 545.66L195.65 546.38L196.20 547.75L196.75 545.00L197.30 542.65L197.85 547.46L198.40 548.56L198.95 548.30L199.50 546.76L200.05 546.17L200.60 548.56L201.15 548.27L201.70 547.55L202.25 546.83L202.80 545.41L203.35 547.66L203.90 547.46L204.45 548.68L205.00 546.21L205.55 547.54L206.10 549.72L206.65 546.60L207.20 549.21L207.75 547.82L208.30 544.88L208.85 545.20L209.40 546.05L209.95 548.05L210.50 549.49L211.05 548.62L211.60 550.27L212.15 550.01L212.70 548.54L213.25 549.16L213.80 547.14L214.35 546.02L214.90 547.78L215.45 549.53L216.00 549.74L216.55 550.40L217.10 551.08L217.65 550.51L218.20 550.76L218.75 550.34L219.30 550.14L219.85 550.73L220.40 550.23L220.95 549.47L221.50 549.68L222.05 549.78L222.60 548.19L223.15 547.27L223.70 546.88L224.25 546.46L224.80 545.08L225.35 545.51L225.90 545.53L226.45 546.31L227.00 546.90L227.55 545.10L228.10 547.82L228.65 545.93L229.20 543.44L229.75 542.92L230.30 542.58L230.85 545.69L231.40 545.62L231.95 546.58L232.50 547.07L233.05 548.93L233.60 549.04L234.15 549.48L234.70 551.17L235.25 551.24L235.80 551.22L236.35 551.15L236.90 550.72L237.45 550.66L238.00 551.76L238.55 551.54L239.10 551.72L239.65 551.45L240.20 551.39L240.75 551.58L241.30 551.77L241.85 551.57L242.40 551.59L242.95 551.53L243.50 551.62L244.05 551.58L244.60 551.51L245.15 551.64L245.70 551.69L246.25 551.50L246.80 551.77L247.35 551.61L247.90 551.72L248.45 551.60L249.00 551.83L249.55 551.54L250.10 551.70L250.65 551.57L251.20 551.06L251.75 550.50L252.30 550.90L252.85 550.08L253.40 549.94L253.95 549.24L254.50 549.94L255.05 550.12L255.60 550.21L256.15 549.32L256.70 549.69L257.25 550.85L257.80 551.42L258.35 551.18L258.90 551.58L259.45 551.49L260.00 551.31L260.55 550.26L261.10 549.76L261.65 549.62L262.20 549.30L262.75 547.86L263.30 549.20L263.85 548.85L264.40 550.47L264.95 550.18L265.50 550.09L266.05 550.24L266.60 550.54L267.15 550.66L267.70 550.14L268.25 550.59L268.80 548.55L269.35 549.16L269.90 546.74L270.45 548.06L271.00 546.81L271.55 546.89L272.10 547.42L272.65 549.57L273.20 550.78L273.75 550.02L274.30 551.08L274.60 552.10Z" fill="#4a5162"/>
<path d="M307.32 552.10L308.00 543.10L308.68 552.10Z" fill="#4a5162" stroke="#4a5162" stroke-width="0.35" stroke-linejoin="round"/>
<rect x="150" y="551.8" width="124.6" height="3.2" fill="#a80a2e"/>
<path d="M293.92 552.10v-0.48h0.64v0.48zM296.86 552.10v-0.68h0.73v0.68zM295.80 552.10v-0.86h0.83v0.86z" fill="#4a5162" opacity="0.4"/>
<path d="M150.00 566.90L150.00 566.90L150.55 565.46L151.10 563.50L151.65 563.29L152.20 564.60L152.75 562.19L153.30 562.38L153.85 564.26L154.40 564.38L154.95 561.53L155.50 562.94L156.05 564.13L156.60 564.57L157.15 564.45L157.70 564.18L158.25 562.58L158.80 564.03L159.35 564.84L159.90 563.51L160.45 563.83L161.00 565.12L161.55 563.63L162.10 564.27L162.65 564.26L163.20 564.78L163.75 564.79L164.30 565.18L164.85 565.29L165.40 566.06L165.95 565.74L166.50 565.95L167.05 565.86L167.60 566.14L168.15 565.92L168.70 566.18L169.25 566.40L169.80 566.46L170.35 566.52L170.90 566.36L171.45 566.56L172.00 566.37L172.55 566.52L173.10 566.36L173.65 566.35L174.20 566.33L174.75 566.19L175.30 566.51L175.85 565.72L176.40 565.76L176.95 565.39L177.50 564.86L178.05 564.12L178.60 564.57L179.15 563.76L179.70 561.16L180.25 563.62L180.80 559.90L181.35 558.58L181.90 562.72L182.45 560.63L183.00 561.64L183.55 562.27L184.10 564.87L184.65 564.36L185.20 565.62L185.75 566.00L186.30 565.90L186.85 566.54L187.40 566.15L187.95 566.07L188.50 566.15L189.05 565.60L189.60 565.90L190.15 565.67L190.70 565.48L191.25 564.70L191.80 564.98L192.35 563.78L192.90 563.10L193.45 561.83L194.00 559.72L194.55 562.57L195.10 560.72L195.65 562.41L196.20 560.82L196.75 561.04L197.30 558.42L197.85 555.72L198.40 559.44L198.95 560.40L199.50 562.68L200.05 562.90L200.60 563.05L201.15 561.51L201.70 560.87L202.25 559.59L202.80 562.92L203.35 559.53L203.90 559.72L204.45 562.09L205.00 564.50L205.55 564.33L206.10 565.47L206.65 565.20L207.20 563.98L207.75 564.70L208.30 564.77L208.85 564.73L209.40 564.74L209.95 565.29L210.50 565.03L211.05 564.71L211.60 564.27L212.15 564.15L212.70 563.64L213.25 564.54L213.80 563.02L214.35 563.76L214.90 563.39L215.45 565.24L216.00 565.34L216.55 565.83L217.10 565.10L217.65 564.93L218.20 565.25L218.75 565.60L219.30 565.04L219.85 565.09L220.40 565.36L220.95 565.74L221.50 565.48L222.05 565.05L222.60 564.98L223.15 564.36L223.70 562.92L224.25 560.85L224.80 563.58L225.35 560.85L225.90 563.30L226.45 562.81L227.00 559.12L227.55 560.18L228.10 558.16L228.65 560.58L229.20 562.96L229.75 561.01L230.30 560.05L230.85 558.40L231.40 558.24L231.95 560.86L232.50 561.18L233.05 562.90L233.60 562.08L234.15 564.92L234.70 566.04L235.25 566.69L235.80 566.88L236.00 566.90Z" fill="#4a5162"/>
<path d="M252.00 566.90L252.00 566.90L252.55 566.62L253.10 565.48L253.65 566.12L254.20 565.11L254.75 566.01L255.30 566.33L255.85 566.15L256.40 566.71L256.95 566.90L257.00 566.90Z" fill="#4a5162"/>
<path d="M262.06 566.90L263.00 564.90L263.94 566.90Z" fill="#4a5162" stroke="#4a5162" stroke-width="0.35" stroke-linejoin="round"/>
<path d="M270.31 566.90L270.98 565.70L271.79 566.90Z" fill="#4a5162" stroke="#4a5162" stroke-width="0.35" stroke-linejoin="round"/>
<path d="M307.19 566.90L308.00 561.90L308.81 566.90Z" fill="#4a5162" stroke="#4a5162" stroke-width="0.35" stroke-linejoin="round"/>
<rect x="150" y="566.6" width="84.2" height="3.2" fill="#a80a2e"/>
<path d="M293.00 566.90v-0.33h0.79v0.33zM301.42 566.90v-0.81h0.76v0.81zM291.35 566.90v-0.68h0.75v0.68z" fill="#4a5162" opacity="0.4"/>
<path d="M150.00 581.50L150.00 581.50L150.55 578.60L151.10 577.20L151.65 572.62L152.20 571.95L152.75 574.96L153.30 574.58L153.85 570.56L154.40 569.34L154.95 573.85L155.50 572.61L156.05 570.38L156.60 574.00L157.15 570.10L157.70 571.84L158.25 574.10L158.80 572.62L159.35 572.69L159.90 574.58L160.45 573.59L161.00 575.76L161.55 572.57L162.10 574.40L162.65 572.83L163.20 572.93L163.75 574.35L164.30 574.89L164.85 573.31L165.40 572.63L165.95 573.31L166.50 575.41L167.05 577.46L167.60 578.92L168.15 577.71L168.70 578.78L169.25 579.06L169.80 580.02L170.35 580.07L170.90 580.11L171.45 580.52L172.00 580.90L172.55 580.93L173.10 580.80L173.65 580.49L174.20 580.67L174.75 580.40L175.30 580.31L175.85 579.88L176.40 579.74L176.95 579.65L177.50 579.48L178.05 578.36L178.60 577.62L179.15 576.78L179.70 575.44L180.25 574.08L180.80 576.54L181.35 572.06L181.90 573.46L182.45 575.49L183.00 577.70L183.55 579.39L184.10 579.72L184.65 580.08L185.20 580.47L185.75 580.65L186.30 580.98L186.85 581.08L187.40 580.91L187.95 580.83L188.50 580.86L189.05 580.29L189.60 579.83L190.15 580.15L190.70 579.37L191.25 578.86L191.80 578.36L192.35 577.89L192.90 576.72L193.45 574.36L194.00 573.72L194.55 574.69L195.10 576.13L195.65 572.71L196.20 572.28L196.75 574.04L197.30 571.05L197.85 569.62L198.40 571.22L198.95 574.33L199.50 574.63L200.05 574.15L200.60 575.81L201.15 575.46L201.70 575.18L202.25 572.17L202.80 573.46L203.35 572.02L203.90 573.90L204.45 574.37L205.00 576.33L205.55 577.05L206.10 573.76L206.65 575.66L207.20 576.39L207.75 573.76L208.30 572.60L208.85 575.21L209.40 573.56L209.95 575.47L210.50 575.58L211.05 577.66L211.60 577.91L212.15 574.90L212.70 573.79L213.25 574.36L213.80 573.47L214.35 575.04L214.90 574.85L215.45 577.87L216.00 577.55L216.55 578.56L217.10 578.95L217.65 579.25L218.20 580.21L218.75 580.41L219.30 580.26L219.85 580.28L220.40 580.07L220.95 579.69L221.50 578.29L222.05 576.96L222.60 577.31L223.15 575.03L223.70 573.62L224.25 575.99L224.80 572.21L225.35 572.68L225.90 574.05L226.45 568.64L227.00 572.71L227.55 570.91L228.10 570.60L228.65 568.85L229.20 570.64L229.75 572.17L230.30 571.68L230.85 573.36L231.40 568.34L231.95 568.38L232.50 573.28L233.05 574.64L233.60 575.20L234.15 576.64L234.70 577.09L235.25 578.47L235.80 578.92L236.35 579.90L236.90 578.55L237.45 579.32L238.00 580.21L238.55 580.76L239.10 581.09L239.65 581.07L240.20 580.87L240.75 580.82L241.30 580.92L241.85 581.04L242.40 580.96L242.95 580.92L243.50 581.12L244.05 581.07L244.60 581.09L245.15 581.14L245.70 581.04L246.25 581.14L246.80 581.12L247.35 581.16L247.90 581.02L248.45 581.20L249.00 581.03L249.55 581.17L250.10 581.18L250.65 580.57L251.20 580.64L251.75 579.77L252.30 579.45L252.85 579.08L253.40 579.76L253.95 579.05L254.50 579.68L255.05 578.62L255.60 578.91L256.15 579.44L256.70 580.05L257.25 580.52L257.80 580.66L258.35 580.84L258.90 580.60L259.45 580.71L260.00 580.52L260.55 580.51L261.10 579.61L261.65 578.88L262.20 578.83L262.75 576.19L263.30 578.15L263.85 579.21L264.40 579.98L264.95 579.97L265.50 579.51L266.05 580.12L266.60 580.05L267.15 579.40L267.70 579.37L268.25 578.08L268.80 579.11L269.35 576.93L269.90 578.53L270.45 575.68L271.00 575.66L271.55 576.75L272.10 576.61L272.65 577.90L273.20 578.59L273.75 579.19L274.30 579.37L274.85 579.04L275.40 579.58L275.95 580.16L276.50 580.82L277.05 580.82L277.60 580.68L278.15 581.06L278.70 580.68L279.25 580.76L279.80 580.24L280.35 580.66L280.90 579.76L281.45 580.23L282.00 580.51L282.55 580.71L283.10 580.32L283.65 580.74L284.20 581.07L284.75 581.18L285.20 581.50Z" fill="#4a5162"/>
<path d="M307.06 581.50L308.00 573.50L308.94 581.50Z" fill="#4a5162" stroke="#4a5162" stroke-width="0.35" stroke-linejoin="round"/>
<rect x="150" y="581.2" width="135.2" height="3.2" fill="#a80a2e"/>
<path d="M304.59 581.50v-0.43h0.69v0.43zM292.21 581.50v-0.41h0.79v0.41zM301.39 581.50v-0.42h0.44v0.42z" fill="#4a5162" opacity="0.4"/>
<path d="M150.00 596.30L150.00 596.30L150.55 594.46L151.10 592.34L151.65 591.31L152.20 590.14L152.75 586.60L153.30 585.18L153.85 584.37L154.40 585.61L154.95 587.87L155.50 588.83L156.05 584.82L156.60 586.97L157.15 585.38L157.70 589.77L158.25 586.33L158.80 589.23L159.35 587.28L159.90 587.68L160.45 589.20L161.00 591.15L161.55 586.94L162.10 589.54L162.65 588.63L163.20 591.23L163.75 591.36L164.30 588.68L164.85 590.78L165.40 592.02L165.95 591.89L166.50 592.06L167.05 594.07L167.60 593.82L168.15 594.49L168.70 594.84L169.25 595.33L169.80 595.07L170.35 595.18L170.90 595.30L171.45 595.69L172.00 595.66L172.55 595.77L173.10 595.64L173.65 595.88L174.20 595.60L174.75 595.57L175.30 595.73L175.85 595.73L176.40 595.72L176.95 595.72L177.50 595.90L178.05 595.54L178.60 595.61L179.15 595.42L179.70 595.27L180.25 594.80L180.80 593.50L181.35 594.74L181.90 595.08L182.45 594.85L183.00 595.47L183.55 595.76L184.10 595.70L184.65 595.70L185.20 595.72L185.75 595.66L186.30 595.87L186.85 595.60L187.40 595.66L187.95 595.89L188.50 595.86L189.05 595.73L189.60 595.73L190.15 595.72L190.70 595.50L191.25 594.93L191.80 594.84L192.35 593.67L192.90 592.35L193.45 593.18L194.00 591.35L194.55 591.08L195.10 592.86L195.65 591.02L196.20 589.76L196.75 590.79L197.30 589.94L197.85 588.67L198.40 590.92L198.95 592.30L199.50 591.21L200.05 591.85L200.60 592.89L201.15 592.44L201.70 591.44L202.25 590.06L202.80 586.04L203.35 585.53L203.90 586.86L204.45 589.15L205.00 589.65L205.55 592.62L206.10 591.59L206.65 590.84L207.20 591.41L207.75 593.07L208.30 592.28L208.85 591.29L209.40 592.23L209.95 592.18L210.50 593.63L211.05 593.19L211.60 593.45L212.15 594.15L212.70 592.53L213.25 588.16L213.80 587.71L214.35 586.78L214.90 590.48L215.45 592.39L216.00 593.14L216.55 593.85L217.10 595.22L217.65 594.65L218.20 595.00L218.75 594.62L219.30 594.64L219.85 593.53L220.40 591.89L220.95 591.33L221.50 591.35L222.05 589.28L222.60 590.05L223.15 588.50L223.70 590.96L224.25 590.17L224.80 587.81L225.35 590.03L225.90 587.48L226.45 585.42L227.00 587.58L227.55 589.02L228.10 588.13L228.65 587.94L229.20 589.73L229.75 589.22L230.30 588.54L230.85 587.39L231.40 586.87L231.95 587.78L232.50 588.23L233.05 589.30L233.60 587.29L234.15 588.69L234.70 591.71L235.25 593.07L235.80 593.74L236.35 594.70L236.90 594.51L237.45 595.11L238.00 595.41L238.55 595.69L239.10 595.74L239.65 595.80L240.20 595.82L240.75 595.83L241.30 595.73L241.85 595.77L242.40 595.70L242.95 595.90L243.50 595.78L244.05 595.60L244.60 595.82L245.15 595.71L245.70 595.73L246.25 595.81L246.80 595.56L247.35 595.80L247.90 595.64L248.45 595.69L249.00 595.55L249.55 594.71L250.10 594.77L250.65 594.83L251.20 594.02L251.75 593.51L252.30 592.51L252.85 593.48L253.40 592.88L253.95 590.72L254.50 591.08L255.05 592.58L255.60 592.19L256.15 592.28L256.70 591.57L257.25 592.21L257.80 592.62L258.35 593.62L258.90 594.39L259.45 594.35L260.00 594.56L260.55 593.88L261.10 593.67L261.65 592.47L262.20 591.45L262.75 588.61L263.30 591.96L263.85 592.36L264.40 594.67L264.95 593.91L265.50 594.43L266.05 594.75L266.60 593.82L267.15 593.89L267.70 593.60L268.25 592.03L268.80 590.84L269.35 590.63L269.90 590.52L270.45 589.35L271.00 588.42L271.55 588.51L272.10 591.39L272.65 591.98L273.20 591.93L273.75 592.75L274.30 593.28L274.85 592.83L275.40 593.26L275.95 594.23L276.50 594.51L277.05 594.96L277.60 594.94L278.15 594.99L278.70 594.39L279.25 594.24L279.80 594.71L280.35 593.37L280.90 594.05L281.45 593.59L282.00 594.06L282.55 594.40L283.10 595.38L283.65 595.56L284.20 595.63L284.75 595.99L285.30 596.04L285.85 596.01L286.40 596.10L286.50 596.30Z" fill="#4a5162"/>
<path d="M307.06 596.30L308.00 589.30L308.94 596.30Z" fill="#4a5162" stroke="#4a5162" stroke-width="0.35" stroke-linejoin="round"/>
<rect x="150" y="596.0" width="136.5" height="3.2" fill="#a80a2e"/>
<path d="M304.72 596.30v-0.76h0.67v0.76zM305.97 596.30v-0.61h0.66v0.61zM300.96 596.30v-0.53h0.58v0.53z" fill="#4a5162" opacity="0.4"/>
<path d="M150.00 610.70L150.00 610.70L150.55 609.72L151.10 607.12L151.65 606.84L152.20 606.47L152.75 607.41L153.30 605.47L153.85 604.53L154.40 602.68L154.95 603.46L155.50 603.27L156.05 603.41L156.60 605.91L157.15 606.42L157.70 605.93L158.25 604.86L158.80 607.29L159.35 606.87L159.90 606.22L160.45 608.25L161.00 607.95L161.55 606.35L162.10 606.93L162.65 607.86L163.20 608.90L163.75 607.33L164.30 608.02L164.85 608.12L165.40 608.22L165.95 608.73L166.50 609.45L167.05 609.84L167.60 609.81L168.15 609.74L168.70 609.87L169.25 610.18L169.80 610.27L170.35 610.09L170.90 610.10L171.45 610.22L172.00 609.93L172.55 610.09L173.10 610.36L173.65 610.19L174.20 610.02L174.75 610.24L175.30 609.99L175.85 610.28L176.40 609.99L176.95 609.45L177.50 609.48L178.05 609.20L178.60 609.56L179.15 608.81L179.70 608.34L180.25 608.51L180.80 607.00L181.35 607.48L181.90 607.06L182.45 608.57L183.00 609.35L183.55 610.06L184.10 610.31L184.65 610.03L185.20 610.33L185.75 610.34L186.30 610.30L186.85 610.14L187.40 610.00L187.95 610.10L188.50 609.88L189.05 610.21L189.60 610.17L190.15 609.45L190.70 609.72L191.25 609.19L191.80 609.46L192.35 609.31L192.90 608.55L193.45 608.42L194.00 605.53L194.55 606.16L195.10 606.75L195.65 606.55L196.20 606.96L196.75 608.12L197.30 604.97L197.85 605.88L198.40 604.77L198.95 607.01L199.50 606.84L200.05 607.78L200.60 608.30L201.15 605.04L201.70 604.74L202.25 606.45L202.80 603.39L203.35 604.05L203.90 606.80L204.45 606.26L205.00 605.35L205.55 607.05L206.10 605.92L206.65 608.13L207.20 607.90L207.75 607.07L208.30 608.20L208.85 607.80L209.40 606.27L209.95 607.57L210.50 606.98L211.05 608.51L211.60 608.81L212.15 608.46L212.70 608.62L213.25 606.35L213.80 607.90L214.35 607.53L214.90 609.17L215.45 609.13L216.00 609.67L216.55 609.96L217.10 610.33L217.65 610.13L218.20 609.33L218.75 609.53L219.30 609.32L219.85 608.99L220.40 608.46L220.95 608.27L221.50 608.57L222.05 606.27L222.60 606.99L223.15 607.31L223.70 604.25L224.25 606.60L224.80 605.07L225.35 601.29L225.90 605.55L226.45 603.42L227.00 600.71L227.55 600.73L228.10 604.93L228.65 603.48L229.20 600.68L229.75 602.87L230.30 598.86L230.85 604.70L231.40 600.55L231.95 603.91L232.50 605.94L233.05 605.34L233.60 607.26L234.15 605.53L234.70 607.65L235.25 606.37L235.80 607.83L236.35 608.98L236.90 609.81L237.45 609.83L238.00 610.26L238.55 610.46L239.00 610.70Z" fill="#4a5162"/>
<path d="M252.50 610.70L252.50 610.70L253.05 610.29L253.60 609.65L254.15 609.74L254.70 609.02L255.25 609.53L255.80 609.62L256.35 610.03L256.90 610.67L257.00 610.70Z" fill="#4a5162"/>
<path d="M261.00 610.70L261.00 610.70L261.55 610.43L262.10 609.96L262.65 609.23L263.20 609.62L263.75 609.11L264.30 609.72L264.85 609.16L265.40 609.41L265.95 609.24L266.50 609.88L267.05 610.34L267.60 610.02L268.15 609.91L268.70 609.87L269.25 609.07L269.80 609.18L270.35 608.31L270.90 606.18L271.45 606.96L272.00 607.44L272.55 608.17L273.10 609.49L273.65 609.42L274.20 609.78L274.75 608.74L275.30 608.55L275.85 608.89L276.40 608.61L276.95 607.93L277.50 608.22L278.05 609.32L278.60 608.81L279.15 609.42L279.70 609.08L280.25 609.69L280.80 609.89L281.35 609.31L281.90 609.67L282.45 609.87L283.00 610.36L283.55 610.61L284.00 610.70Z" fill="#4a5162"/>
<path d="M307.19 610.70L308.00 605.70L308.81 610.70Z" fill="#4a5162" stroke="#4a5162" stroke-width="0.35" stroke-linejoin="round"/>
<rect x="150" y="610.4" width="88.1" height="3.2" fill="#a80a2e"/>
<path d="M292.59 610.70v-0.42h0.55v0.42zM296.09 610.70v-0.32h0.56v0.32zM300.21 610.70v-0.41h0.82v0.41z" fill="#4a5162" opacity="0.4"/>
<path d="M153.45 439.60L154.02 437.60L154.38 437.60L154.95 439.60ZM156.50 439.60L156.88 438.60L157.12 438.60L157.50 439.60ZM159.50 439.60L159.88 438.60L160.12 438.60L160.50 439.60ZM162.75 439.60L163.32 437.60L163.68 437.60L164.25 439.60ZM169.50 439.60L169.88 438.60L170.12 438.60L170.50 439.60ZM177.40 439.60L177.78 437.10L178.02 437.10L178.40 439.60ZM179.50 439.60L179.88 438.60L180.12 438.60L180.50 439.60ZM189.50 439.60L189.88 438.60L190.12 438.60L190.50 439.60ZM193.70 439.60L194.08 438.10L194.32 438.10L194.70 439.60ZM197.05 439.60L197.54 429.00L197.86 429.00L198.35 439.60ZM198.50 439.60L198.88 437.60L199.12 437.60L199.50 439.60ZM203.90 439.60L204.28 437.10L204.52 437.10L204.90 439.60ZM209.50 439.60L209.88 438.60L210.12 438.60L210.50 439.60ZM265.80 439.60L266.26 438.10L266.54 438.10L267.00 439.60ZM268.25 439.60L268.82 438.10L269.18 438.10L269.75 439.60ZM270.25 439.60L270.74 436.10L271.06 436.10L271.55 439.60ZM272.30 439.60L272.76 437.60L273.04 437.60L273.50 439.60ZM300.20 439.60L300.66 437.60L300.94 437.60L301.40 439.60ZM302.60 439.60L303.06 436.60L303.34 436.60L303.80 439.60ZM305.00 439.60L305.46 437.60L305.74 437.60L306.20 439.60ZM307.60 439.60L308.06 437.10L308.34 437.10L308.80 439.60Z" fill="#d3249c"/>
<line x1="134" y1="439.4" x2="318" y2="439.4" stroke="#d3249c" stroke-width="0.5" stroke-dasharray="0.9 2.1" opacity="0.5"/>
<path d="M153.45 454.00L154.02 452.00L154.38 452.00L154.95 454.00ZM162.85 454.00L163.34 449.00L163.66 449.00L164.15 454.00ZM177.30 454.00L177.76 452.00L178.04 452.00L178.50 454.00ZM193.55 454.00L194.04 445.50L194.36 445.50L194.85 454.00ZM197.00 454.00L197.53 441.50L197.87 441.50L198.40 454.00ZM199.00 454.00L199.38 451.00L199.62 451.00L200.00 454.00ZM203.80 454.00L204.26 449.00L204.54 449.00L205.00 454.00ZM229.50 454.00L229.88 453.00L230.12 453.00L230.50 454.00ZM265.40 454.00L265.86 451.00L266.14 451.00L266.60 454.00ZM268.90 454.00L269.36 452.00L269.64 452.00L270.10 454.00ZM272.30 454.00L272.76 451.50L273.04 451.50L273.50 454.00ZM283.70 454.00L284.08 453.00L284.32 453.00L284.70 454.00ZM306.60 454.00L307.06 450.00L307.34 450.00L307.80 454.00ZM311.50 454.00L311.88 453.00L312.12 453.00L312.50 454.00Z" fill="#d3249c"/>
<path d="M238.91 453.80v-0.66h0.53v0.66zM214.03 453.80v-0.64h0.57v0.64zM134.18 453.80v-0.72h0.79v0.72zM186.69 453.80v-0.32h0.83v0.32zM245.76 453.80v-0.32h0.52v0.32zM154.46 453.80v-0.70h0.51v0.70zM302.26 453.80v-0.67h0.44v0.67zM261.82 453.80v-0.50h0.77v0.50zM286.49 453.80v-0.44h0.44v0.44zM308.13 453.80v-0.51h0.87v0.51zM261.26 453.80v-0.67h0.81v0.67zM249.57 453.80v-0.53h0.43v0.53zM262.48 453.80v-0.51h0.66v0.51zM304.78 453.80v-0.36h0.78v0.36zM142.04 453.80v-0.65h0.80v0.65zM182.06 453.80v-0.57h0.88v0.57zM251.30 453.80v-0.57h0.52v0.57zM144.93 453.80v-0.48h0.61v0.48zM171.06 453.80v-0.46h0.47v0.46zM264.08 453.80v-0.64h0.52v0.64zM178.47 453.80v-0.56h0.62v0.56zM306.20 453.80v-0.48h0.55v0.48zM296.78 453.80v-0.37h0.68v0.37zM195.38 453.80v-0.71h0.67v0.71zM273.94 453.80v-0.38h0.73v0.38zM244.16 453.80v-0.53h0.78v0.53zM286.94 453.80v-0.36h0.54v0.36zM200.33 453.80v-0.40h0.43v0.40zM185.68 453.80v-0.40h0.75v0.40zM216.44 453.80v-0.36h0.56v0.36zM220.23 453.80v-0.48h0.48v0.48zM147.21 453.80v-0.31h0.90v0.31zM272.08 453.80v-0.34h0.76v0.34zM314.36 453.80v-0.58h0.45v0.58zM223.95 453.80v-0.52h0.49v0.52zM233.93 453.80v-0.30h0.86v0.30zM252.59 453.80v-0.61h0.87v0.61zM254.08 453.80v-0.43h0.52v0.43zM159.51 453.80v-0.31h0.79v0.31zM288.48 453.80v-0.45h0.49v0.45z" fill="#d3249c" opacity="0.6"/>
<path d="M153.10 624.80L153.94 615.80L154.46 615.80L155.30 624.80ZM155.25 624.80L155.82 621.80L156.18 621.80L156.75 624.80ZM162.75 624.80L163.32 621.80L163.68 621.80L164.25 624.80ZM164.50 624.80L164.88 623.30L165.12 623.30L165.50 624.80ZM171.50 624.80L171.88 623.80L172.12 623.80L172.50 624.80ZM177.50 624.80L177.88 623.80L178.12 623.80L178.50 624.80ZM181.50 624.80L181.88 623.80L182.12 623.80L182.50 624.80ZM196.35 624.80L196.84 620.80L197.16 620.80L197.65 624.80ZM198.50 624.80L198.88 622.80L199.12 622.80L199.50 624.80ZM200.35 624.80L200.84 620.80L201.16 620.80L201.65 624.80ZM203.35 624.80L203.84 619.80L204.16 619.80L204.65 624.80ZM206.50 624.80L206.88 623.30L207.12 623.30L207.50 624.80ZM212.50 624.80L212.88 623.80L213.12 623.80L213.50 624.80ZM221.50 624.80L221.88 623.80L222.12 623.80L222.50 624.80ZM228.25 624.80L228.82 621.80L229.18 621.80L229.75 624.80ZM230.35 624.80L230.84 620.80L231.16 620.80L231.65 624.80ZM255.25 624.80L255.82 620.80L256.18 620.80L256.75 624.80ZM262.95 624.80L263.37 617.80L263.63 617.80L264.05 624.80ZM269.25 624.80L269.82 621.80L270.18 621.80L270.75 624.80ZM271.25 624.80L271.82 619.80L272.18 619.80L272.75 624.80ZM273.50 624.80L273.88 622.80L274.12 622.80L274.50 624.80ZM307.35 624.80L307.84 619.80L308.16 619.80L308.65 624.80Z" fill="#4f9fe3"/>
<path d="M251.41 624.80v-0.89h0.86v0.89zM165.00 624.80v-0.85h0.82v0.85zM270.59 624.80v-0.53h0.49v0.53zM285.86 624.80v-0.52h0.58v0.52zM235.41 624.80v-0.56h0.82v0.56zM178.05 624.80v-0.33h0.68v0.33zM249.59 624.80v-0.87h0.75v0.87zM300.56 624.80v-0.96h0.65v0.96zM225.91 624.80v-0.41h0.55v0.41zM240.93 624.80v-0.36h0.74v0.36zM164.11 624.80v-0.61h0.88v0.61zM150.50 624.80v-0.33h0.62v0.33zM169.11 624.80v-0.81h0.40v0.81zM288.71 624.80v-0.90h0.79v0.90zM212.28 624.80v-0.50h0.73v0.50zM228.69 624.80v-0.59h0.57v0.59zM214.72 624.80v-0.77h0.81v0.77zM300.34 624.80v-0.42h0.55v0.42zM215.54 624.80v-0.69h0.57v0.69zM169.96 624.80v-0.36h0.56v0.36zM218.73 624.80v-0.98h0.85v0.98zM293.24 624.80v-0.98h0.88v0.98zM248.06 624.80v-0.87h0.43v0.87zM258.47 624.80v-0.73h0.55v0.73zM239.09 624.80v-0.97h0.64v0.97zM253.11 624.80v-0.51h0.57v0.51zM296.86 624.80v-0.32h0.49v0.32zM258.88 624.80v-0.61h0.44v0.61zM255.53 624.80v-0.56h0.69v0.56zM210.61 624.80v-0.67h0.68v0.67zM206.93 624.80v-0.38h0.49v0.38zM297.76 624.80v-0.68h0.46v0.68zM292.64 624.80v-0.48h0.45v0.48zM231.66 624.80v-0.48h0.64v0.48zM235.94 624.80v-0.46h0.69v0.46zM154.80 624.80v-0.66h0.69v0.66zM148.76 624.80v-0.59h0.44v0.59zM214.87 624.80v-0.90h0.68v0.90zM265.49 624.80v-0.83h0.46v0.83zM316.28 624.80v-0.81h0.45v0.81zM286.76 624.80v-0.57h0.49v0.57zM310.65 624.80v-0.69h0.79v0.69zM159.17 624.80v-0.84h0.43v0.84zM177.59 624.80v-0.56h0.41v0.56zM243.35 624.80v-0.45h0.55v0.45z" fill="#4f9fe3" opacity="0.6"/>
<path d="M153.10 639.40L153.94 629.40L154.46 629.40L155.30 639.40ZM155.25 639.40L155.82 635.40L156.18 635.40L156.75 639.40ZM157.50 639.40L157.88 637.40L158.12 637.40L158.50 639.40ZM162.70 639.40L163.31 631.40L163.69 631.40L164.30 639.40ZM164.50 639.40L164.88 637.40L165.12 637.40L165.50 639.40ZM171.50 639.40L171.88 638.40L172.12 638.40L172.50 639.40ZM177.50 639.40L177.88 637.90L178.12 637.90L178.50 639.40ZM181.50 639.40L181.88 638.40L182.12 638.40L182.50 639.40ZM196.35 639.40L196.84 636.40L197.16 636.40L197.65 639.40ZM198.50 639.40L198.88 637.40L199.12 637.40L199.50 639.40ZM200.35 639.40L200.84 636.40L201.16 636.40L201.65 639.40ZM203.35 639.40L203.84 634.40L204.16 634.40L204.65 639.40ZM212.25 639.40L212.82 637.40L213.18 637.40L213.75 639.40ZM228.25 639.40L228.82 637.40L229.18 637.40L229.75 639.40ZM230.35 639.40L230.84 636.40L231.16 636.40L231.65 639.40ZM255.35 639.40L255.84 629.40L256.16 629.40L256.65 639.40ZM257.00 639.40L257.38 636.40L257.62 636.40L258.00 639.40ZM263.00 639.40L263.38 637.40L263.62 637.40L264.00 639.40ZM269.25 639.40L269.82 636.40L270.18 636.40L270.75 639.40ZM271.25 639.40L271.82 636.40L272.18 636.40L272.75 639.40ZM307.35 639.40L307.84 636.40L308.16 636.40L308.65 639.40Z" fill="#4f9fe3"/>
<path d="M264.17 639.40v-0.60h0.84v0.60zM248.30 639.40v-0.91h0.68v0.91zM302.82 639.40v-0.91h0.48v0.91zM271.16 639.40v-0.54h0.78v0.54zM259.22 639.40v-0.88h0.46v0.88zM202.63 639.40v-0.82h0.87v0.82zM266.81 639.40v-0.33h0.70v0.33zM152.33 639.40v-0.68h0.80v0.68zM154.79 639.40v-0.95h0.74v0.95zM180.85 639.40v-0.44h0.62v0.44zM288.22 639.40v-0.71h0.46v0.71zM137.86 639.40v-0.38h0.80v0.38zM168.09 639.40v-0.69h0.55v0.69zM260.44 639.40v-0.57h0.47v0.57zM295.07 639.40v-0.68h0.74v0.68zM282.71 639.40v-0.96h0.41v0.96zM197.00 639.40v-0.41h0.65v0.41zM294.64 639.40v-0.86h0.42v0.86zM167.54 639.40v-0.87h0.74v0.87zM206.23 639.40v-0.63h0.48v0.63zM289.50 639.40v-0.58h0.84v0.58zM246.40 639.40v-0.35h0.56v0.35zM173.80 639.40v-0.93h0.69v0.93zM142.03 639.40v-0.42h0.58v0.42zM220.07 639.40v-0.70h0.59v0.70zM199.08 639.40v-0.30h0.69v0.30zM195.42 639.40v-0.31h0.63v0.31zM315.50 639.40v-0.33h0.47v0.33zM257.46 639.40v-0.49h0.54v0.49zM226.00 639.40v-0.48h0.68v0.48zM231.18 639.40v-0.97h0.90v0.97zM140.28 639.40v-0.69h0.79v0.69zM294.52 639.40v-0.84h0.72v0.84zM250.77 639.40v-0.55h0.54v0.55zM280.34 639.40v-0.91h0.87v0.91zM259.37 639.40v-0.51h0.78v0.51zM270.07 639.40v-0.66h0.72v0.66zM198.48 639.40v-0.69h0.60v0.69zM145.12 639.40v-0.54h0.56v0.54zM315.87 639.40v-0.64h0.58v0.64zM178.79 639.40v-0.46h0.57v0.46zM158.95 639.40v-0.31h0.84v0.31zM217.38 639.40v-0.61h0.68v0.61zM189.64 639.40v-0.42h0.43v0.42zM189.47 639.40v-0.52h0.76v0.52z" fill="#4f9fe3" opacity="0.6"/>
<path d="M153.10 654.00L153.94 651.00L154.46 651.00L155.30 654.00ZM155.25 654.00L155.82 652.50L156.18 652.50L156.75 654.00ZM162.50 654.00L162.88 653.00L163.12 653.00L163.50 654.00ZM196.75 654.00L197.32 652.00L197.68 652.00L198.25 654.00ZM228.25 654.00L228.82 651.00L229.18 651.00L229.75 654.00ZM230.50 654.00L230.88 652.50L231.12 652.50L231.50 654.00ZM254.10 654.00L254.78 650.00L255.22 650.00L255.90 654.00ZM255.30 654.00L255.83 647.00L256.17 647.00L256.70 654.00ZM256.60 654.00L257.28 649.00L257.72 649.00L258.40 654.00ZM258.40 654.00L258.86 651.00L259.14 651.00L259.60 654.00ZM262.90 654.00L263.36 651.00L263.64 651.00L264.10 654.00ZM268.20 654.00L268.81 651.00L269.19 651.00L269.80 654.00ZM270.10 654.00L270.78 650.00L271.22 650.00L271.90 654.00ZM271.80 654.00L272.33 644.00L272.67 644.00L273.20 654.00ZM272.90 654.00L273.36 650.00L273.64 650.00L274.10 654.00ZM307.20 654.00L307.81 647.00L308.19 647.00L308.80 654.00Z" fill="#4f9fe3"/>
<path d="M235.43 654.00v-0.96h0.57v0.96zM303.51 654.00v-0.71h0.44v0.71zM166.89 654.00v-0.71h0.89v0.71zM199.68 654.00v-0.84h0.61v0.84zM293.77 654.00v-0.35h0.64v0.35zM299.44 654.00v-0.49h0.53v0.49zM138.25 654.00v-0.42h0.53v0.42zM263.61 654.00v-0.45h0.60v0.45zM170.86 654.00v-0.72h0.83v0.72zM253.25 654.00v-0.44h0.77v0.44zM311.22 654.00v-0.72h0.44v0.72zM282.94 654.00v-0.91h0.57v0.91zM159.15 654.00v-0.43h0.67v0.43zM295.08 654.00v-0.75h0.86v0.75zM173.05 654.00v-0.53h0.77v0.53zM253.40 654.00v-0.58h0.74v0.58zM196.15 654.00v-0.34h0.61v0.34zM142.37 654.00v-0.74h0.57v0.74zM224.96 654.00v-0.72h0.53v0.72zM219.26 654.00v-0.31h0.86v0.31zM237.80 654.00v-0.99h0.43v0.99zM246.97 654.00v-0.81h0.56v0.81zM151.19 654.00v-0.41h0.47v0.41zM275.16 654.00v-0.36h0.81v0.36zM211.87 654.00v-0.68h0.69v0.68zM236.12 654.00v-0.76h0.70v0.76zM194.87 654.00v-0.82h0.53v0.82zM264.90 654.00v-0.83h0.79v0.83zM190.90 654.00v-0.84h0.89v0.84zM217.38 654.00v-0.49h0.66v0.49zM307.13 654.00v-0.39h0.40v0.39zM221.54 654.00v-0.76h0.79v0.76zM200.70 654.00v-0.99h0.51v0.99zM273.21 654.00v-0.36h0.41v0.36zM158.68 654.00v-0.34h0.65v0.34zM236.17 654.00v-0.43h0.87v0.43zM201.27 654.00v-0.40h0.49v0.40zM269.75 654.00v-0.95h0.48v0.95zM139.34 654.00v-0.84h0.52v0.84zM314.75 654.00v-0.65h0.72v0.65zM197.34 654.00v-0.86h0.63v0.86zM193.59 654.00v-0.93h0.45v0.93zM268.94 654.00v-0.35h0.72v0.35zM207.94 654.00v-0.90h0.43v0.90zM237.81 654.00v-0.59h0.86v0.59z" fill="#4f9fe3" opacity="0.6"/>
<rect x="254.2" y="654.2" width="18.8" height="3.0" fill="#a80a2e"/>
<path d="M153.25 669.40L154.20 666.40L154.80 666.40L155.75 669.40ZM155.25 669.40L155.82 667.90L156.18 667.90L156.75 669.40ZM157.50 669.40L157.88 668.40L158.12 668.40L158.50 669.40ZM162.25 669.40L162.82 668.40L163.18 668.40L163.75 669.40ZM166.50 669.40L166.88 668.40L167.12 668.40L167.50 669.40ZM177.50 669.40L177.88 668.40L178.12 668.40L178.50 669.40ZM213.70 669.40L214.31 659.40L214.69 659.40L215.30 669.40ZM214.75 669.40L215.32 666.40L215.68 666.40L216.25 669.40ZM221.25 669.40L221.82 667.40L222.18 667.40L222.75 669.40ZM228.50 669.40L228.88 668.40L229.12 668.40L229.50 669.40ZM255.25 669.40L255.82 667.40L256.18 667.40L256.75 669.40ZM262.75 669.40L263.32 666.40L263.68 666.40L264.25 669.40ZM269.25 669.40L269.82 667.40L270.18 667.40L270.75 669.40ZM271.25 669.40L271.82 667.40L272.18 667.40L272.75 669.40ZM301.50 669.40L301.88 668.40L302.12 668.40L302.50 669.40ZM304.50 669.40L304.88 667.90L305.12 667.90L305.50 669.40ZM307.20 669.40L307.81 662.40L308.19 662.40L308.80 669.40Z" fill="#4b1a6e"/>
<path d="M307.87 669.40v-0.74h0.51v0.74zM180.35 669.40v-0.48h0.62v0.48zM176.57 669.40v-0.44h0.78v0.44zM252.26 669.40v-0.51h0.90v0.51zM173.86 669.40v-0.70h0.48v0.70zM292.80 669.40v-0.91h0.53v0.91zM272.28 669.40v-0.88h0.54v0.88zM195.00 669.40v-0.64h0.85v0.64zM163.73 669.40v-0.78h0.70v0.78zM217.36 669.40v-0.71h0.84v0.71zM172.61 669.40v-0.92h0.58v0.92zM277.49 669.40v-0.90h0.49v0.90zM292.97 669.40v-1.00h0.55v1.00zM138.49 669.40v-0.38h0.89v0.38zM135.73 669.40v-0.94h0.48v0.94zM269.43 669.40v-0.37h0.48v0.37zM259.63 669.40v-0.36h0.57v0.36zM303.00 669.40v-0.80h0.84v0.80zM314.26 669.40v-0.32h0.52v0.32zM279.75 669.40v-0.78h0.42v0.78zM226.88 669.40v-0.46h0.62v0.46zM153.30 669.40v-0.31h0.90v0.31zM192.23 669.40v-0.92h0.46v0.92zM223.67 669.40v-0.40h0.61v0.40zM166.93 669.40v-0.78h0.47v0.78zM269.83 669.40v-0.65h0.46v0.65zM199.06 669.40v-0.65h0.86v0.65zM198.30 669.40v-0.45h0.88v0.45zM296.50 669.40v-0.81h0.54v0.81zM166.61 669.40v-0.49h0.43v0.49zM141.95 669.40v-0.66h0.60v0.66zM236.42 669.40v-0.55h0.41v0.55zM260.62 669.40v-0.76h0.67v0.76zM234.98 669.40v-0.78h0.89v0.78zM294.83 669.40v-0.80h0.60v0.80zM192.56 669.40v-0.59h0.89v0.59zM205.22 669.40v-0.57h0.60v0.57zM160.32 669.40v-1.00h0.40v1.00zM245.84 669.40v-0.95h0.53v0.95zM246.41 669.40v-0.56h0.52v0.56zM170.51 669.40v-0.38h0.82v0.38zM278.25 669.40v-0.94h0.42v0.94zM261.73 669.40v-0.53h0.72v0.53zM235.01 669.40v-0.52h0.89v0.52zM134.17 669.40v-0.82h0.83v0.82zM227.86 669.40v-0.71h0.90v0.71zM177.14 669.40v-0.74h0.77v0.74zM203.71 669.40v-0.80h0.60v0.80zM230.83 669.40v-0.73h0.74v0.73zM193.27 669.40v-0.74h0.67v0.74zM175.08 669.40v-0.73h0.53v0.73zM301.21 669.40v-0.63h0.76v0.63zM230.06 669.40v-0.63h0.51v0.63zM160.14 669.40v-0.95h0.66v0.95zM230.40 669.40v-0.67h0.81v0.67zM177.91 669.40v-0.42h0.81v0.42zM218.69 669.40v-0.75h0.81v0.75zM298.50 669.40v-0.91h0.42v0.91zM204.15 669.40v-0.88h0.81v0.88zM156.64 669.40v-0.41h0.53v0.41zM152.92 669.40v-0.55h0.80v0.55zM229.93 669.40v-0.62h0.44v0.62zM206.78 669.40v-1.00h0.75v1.00zM216.67 669.40v-0.63h0.80v0.63zM273.62 669.40v-0.40h0.74v0.40zM201.51 669.40v-0.66h0.52v0.66zM202.22 669.40v-0.54h0.59v0.54zM137.27 669.40v-0.44h0.69v0.44zM144.62 669.40v-0.42h0.76v0.42zM184.53 669.40v-0.53h0.52v0.53zM287.48 669.40v-0.36h0.72v0.36zM292.04 669.40v-0.44h0.61v0.44zM279.79 669.40v-0.73h0.59v0.73zM142.08 669.40v-0.61h0.58v0.61zM265.11 669.40v-0.51h0.60v0.51z" fill="#4b1a6e" opacity="0.55"/>
<path d="M154.00 684.00L154.38 683.00L154.62 683.00L155.00 684.00ZM177.25 684.00L177.82 681.00L178.18 681.00L178.75 684.00ZM179.50 684.00L179.88 682.50L180.12 682.50L180.50 684.00ZM180.50 684.00L180.88 683.00L181.12 683.00L181.50 684.00ZM213.70 684.00L214.31 672.00L214.69 672.00L215.30 684.00ZM212.80 684.00L213.48 680.00L213.92 680.00L214.60 684.00ZM255.45 684.00L255.87 680.00L256.13 680.00L256.55 684.00ZM262.85 684.00L263.34 680.00L263.66 680.00L264.15 684.00ZM307.35 684.00L307.84 680.00L308.16 680.00L308.65 684.00Z" fill="#4b1a6e"/>
<path d="M253.27 684.00v-0.71h0.58v0.71zM204.91 684.00v-0.59h0.86v0.59zM169.26 684.00v-0.79h0.76v0.79zM202.51 684.00v-0.63h0.56v0.63zM147.02 684.00v-0.68h0.59v0.68zM230.75 684.00v-0.55h0.85v0.55zM273.29 684.00v-0.31h0.70v0.31zM219.11 684.00v-0.53h0.82v0.53zM210.34 684.00v-0.54h0.85v0.54zM214.93 684.00v-0.55h0.66v0.55zM285.74 684.00v-0.64h0.77v0.64zM207.91 684.00v-0.32h0.74v0.32z" fill="#4b1a6e" opacity="0.5"/>
<path d="M153.70 698.60L154.31 695.60L154.69 695.60L155.30 698.60ZM213.70 698.60L214.31 687.60L214.69 687.60L215.30 698.60ZM212.80 698.60L213.48 694.60L213.92 694.60L214.60 698.60ZM255.75 698.60L256.32 692.60L256.68 692.60L257.25 698.60ZM262.75 698.60L263.32 693.60L263.68 693.60L264.25 698.60ZM301.50 698.60L301.88 697.60L302.12 697.60L302.50 698.60ZM307.20 698.60L307.81 690.60L308.19 690.60L308.80 698.60Z" fill="#4b1a6e"/>
<path d="M235.91 698.60v-0.68h0.78v0.68zM155.73 698.60v-0.41h0.44v0.41zM284.42 698.60v-0.35h0.44v0.35zM272.61 698.60v-0.58h0.43v0.58zM259.30 698.60v-0.66h0.64v0.66zM144.08 698.60v-0.65h0.61v0.65zM241.45 698.60v-0.80h0.81v0.80zM294.44 698.60v-0.37h0.57v0.37zM229.35 698.60v-0.30h0.89v0.30zM184.54 698.60v-0.43h0.56v0.43z" fill="#4b1a6e" opacity="0.5"/>
<rect x="129" y="454" width="192.3" height="159.6" fill="none" stroke="#636a7c" stroke-width="1.2"/>
<rect x="129" y="613.9" width="192.3" height="43.6" fill="none" stroke="#6eaae6" stroke-width="1.2"/>
<rect x="129" y="657.8" width="192.3" height="41.0" fill="none" stroke="#5b2a7e" stroke-width="1.1"/>
<rect x="129" y="427.6" width="192.0" height="26.5" fill="none" stroke="#d3249c" stroke-width="1.2"/>
<text font-size="2.8" fill="#3a50b0" textLength="8.3" lengthAdjust="spacingAndGlyphs" x="145.00" y="702.50">CCR4</text>
<path d="M154 701.5H157.6M155.7 700.3V702.7L157.8 701.5Z" stroke="#1c2a8c" stroke-width="0.9" fill="#1c2a8c"/>
<text font-size="8.4" text-anchor="middle" font-style="italic" fill="#231f20" stroke="#231f20" stroke-width="0.22" textLength="19.2" lengthAdjust="spacingAndGlyphs" x="152.00" y="711.20">CCR4</text>
<text font-size="8.4" text-anchor="middle" font-style="italic" fill="#231f20" stroke="#231f20" stroke-width="0.22" textLength="18.4" lengthAdjust="spacingAndGlyphs" x="205.40" y="722.70">GLB1</text>
<text font-size="8.4" text-anchor="middle" font-style="italic" fill="#231f20" stroke="#231f20" stroke-width="0.22" textLength="23.8" lengthAdjust="spacingAndGlyphs" x="274.60" y="722.70">TMPPE</text>
<text font-size="2.6" fill="#222" textLength="6.3" lengthAdjust="spacingAndGlyphs" x="193.30" y="702.40">GLB1</text>
<text font-size="2.6" fill="#222" textLength="6.3" lengthAdjust="spacingAndGlyphs" x="193.30" y="705.90">GLB1</text>
<text font-size="2.6" fill="#222" textLength="6.3" lengthAdjust="spacingAndGlyphs" x="193.30" y="709.50">GLB1</text>
<text font-size="2.6" fill="#222" textLength="6.3" lengthAdjust="spacingAndGlyphs" x="193.30" y="713.00">GLB1</text>
<path d="M200.3 701.5H308M200.3 705.0H308M200.3 708.6H308M200.3 712.1H308" stroke="#141c60" stroke-width="0.8" stroke-dasharray="2.2 0.4" fill="none"/>
<path d="M202.5 700.4V702.6M202.5 703.9V706.1M202.5 707.5V709.7M220.6 700.4V702.6M220.6 703.9V706.1M220.6 707.5V709.7M229.2 700.4V702.6M229.2 703.9V706.1M229.2 707.5V709.7M230.8 700.4V702.6M230.8 703.9V706.1M230.8 707.5V709.7M256 700.4V702.6M256 703.9V706.1M256 707.5V709.7M260.6 700.4V702.6M260.6 703.9V706.1M260.6 707.5V709.7M266.3 700.4V702.6M266.3 703.9V706.1M266.3 707.5V709.7M275 700.4V702.6M275 703.9V706.1M275 707.5V709.7M277.9 700.4V702.6M277.9 703.9V706.1M277.9 707.5V709.7M281.7 700.4V702.6M281.7 703.9V706.1M281.7 707.5V709.7M308 700.4V702.6M308 703.9V706.1M308 707.5V709.7" stroke="#222a55" stroke-width="0.6" fill="none"/>
<text font-size="2.6" fill="#222" textLength="7.6" lengthAdjust="spacingAndGlyphs" x="291.30" y="716.30">TMPPE</text>
<path d="M301.3 715.4H308M303.5 714.1999999999999V716.6" stroke="#1c2a8c" stroke-width="1.4" fill="none"/>
<rect x="301.3" y="714.1999999999999" width="4" height="2.4" fill="#1c2a8c"/>
<text font-size="2.6" fill="#222" textLength="7.6" lengthAdjust="spacingAndGlyphs" x="291.30" y="719.20">TMPPE</text>
<path d="M301.3 718.3H308M303.5 717.0999999999999V719.5" stroke="#1c2a8c" stroke-width="1.4" fill="none"/>
<rect x="301.3" y="717.0999999999999" width="4" height="2.4" fill="#1c2a8c"/>
<text font-size="13.4" font-weight="bold" fill="#000" stroke="#000" stroke-width="0.7" stroke-linejoin="round" x="339.00" y="19.80">C</text>
<rect x="395.4" y="26.2" width="6.2" height="6.3" fill="#a80a32"/>
<text font-size="6.3" fill="#231f20" stroke="#231f20" stroke-width="0.22" textLength="24.3" lengthAdjust="spacingAndGlyphs" x="405.20" y="31.80">CCR4 P1</text>
<rect x="440.6" y="26.2" width="6.2" height="6.3" fill="#2a4a86"/>
<text font-size="6.3" fill="#231f20" stroke="#231f20" stroke-width="0.22" textLength="24.3" lengthAdjust="spacingAndGlyphs" x="450.20" y="31.80">CCR4 P2</text>
<text font-size="7.2" text-anchor="end" fill="#231f20" stroke="#231f20" stroke-width="0.22" x="375.80" y="127.70">0</text>
<text font-size="7.2" text-anchor="end" fill="#231f20" stroke="#231f20" stroke-width="0.22" x="375.80" y="113.46">0.2</text>
<text font-size="7.2" text-anchor="end" fill="#231f20" stroke="#231f20" stroke-width="0.22" x="375.80" y="99.22">0.4</text>
<text font-size="7.2" text-anchor="end" fill="#231f20" stroke="#231f20" stroke-width="0.22" x="375.80" y="84.98">0.6</text>
<text font-size="7.2" text-anchor="end" fill="#231f20" stroke="#231f20" stroke-width="0.22" x="375.80" y="70.74">0.8</text>
<text font-size="7.2" text-anchor="end" fill="#231f20" stroke="#231f20" stroke-width="0.22" x="375.80" y="56.50">1</text>
<text font-size="7.2" text-anchor="end" fill="#231f20" stroke="#231f20" stroke-width="0.22" x="375.80" y="42.26">1.2</text>
<rect x="387.00" y="53.90" width="4.4" height="71.20" fill="#a80a32"/>
<path d="M389.20 48.20V59.60" stroke="#111" stroke-width="0.9" fill="none"/>
<path d="M387.40 48.20H391.00M387.40 59.60H391.00" stroke="#111" stroke-width="1.15" fill="none"/>
<rect x="391.90" y="53.90" width="4.4" height="71.20" fill="#2a4a86"/>
<path d="M392.30 53.90H395.90" stroke="#111" stroke-width="2.05" fill="none"/>
<rect x="404.50" y="99.04" width="4.4" height="26.06" fill="#a80a32"/>
<path d="M404.90 99.04H408.50" stroke="#111" stroke-width="1.77" fill="none"/>
<text font-size="6.6" font-weight="bold" fill="#222" transform="translate(410.56,95.09) rotate(-90)" letter-spacing="0.28" stroke="#222" stroke-width="0.25">**</text>
<rect x="409.40" y="101.03" width="4.4" height="24.07" fill="#2a4a86"/>
<path d="M409.80 101.03H413.40" stroke="#111" stroke-width="1.77" fill="none"/>
<text font-size="6.6" font-weight="bold" fill="#222" transform="translate(415.46,95.59) rotate(-90)" letter-spacing="0.28" stroke="#222" stroke-width="0.25">***</text>
<rect x="421.80" y="113.99" width="4.4" height="11.11" fill="#a80a32"/>
<path d="M422.20 113.99H425.80" stroke="#111" stroke-width="1.63" fill="none"/>
<text font-size="6.6" font-weight="bold" fill="#222" transform="translate(427.86,110.69) rotate(-90)" letter-spacing="0.28" stroke="#222" stroke-width="0.25">**</text>
<rect x="426.70" y="116.70" width="4.4" height="8.40" fill="#2a4a86"/>
<path d="M427.10 116.70H430.70" stroke="#111" stroke-width="1.63" fill="none"/>
<text font-size="6.6" font-weight="bold" fill="#222" transform="translate(432.76,112.39) rotate(-90)" letter-spacing="0.28" stroke="#222" stroke-width="0.25">***</text>
<rect x="439.20" y="53.90" width="4.4" height="71.20" fill="#a80a32"/>
<path d="M441.40 51.91V55.89" stroke="#111" stroke-width="0.9" fill="none"/>
<path d="M439.60 51.91H443.20M439.60 55.89H443.20" stroke="#111" stroke-width="1.15" fill="none"/>
<rect x="444.10" y="53.90" width="4.4" height="71.20" fill="#2a4a86"/>
<path d="M444.50 53.90H448.10" stroke="#111" stroke-width="1.56" fill="none"/>
<rect x="456.50" y="58.81" width="4.4" height="66.29" fill="#a80a32"/>
<path d="M458.70 53.05V64.58" stroke="#111" stroke-width="0.9" fill="none"/>
<path d="M456.90 53.05H460.50M456.90 64.58H460.50" stroke="#111" stroke-width="1.15" fill="none"/>
<rect x="461.40" y="64.86" width="4.4" height="60.24" fill="#2a4a86"/>
<path d="M463.60 60.17V69.56" stroke="#111" stroke-width="0.9" fill="none"/>
<path d="M461.80 60.17H465.40M461.80 69.56H465.40" stroke="#111" stroke-width="1.15" fill="none"/>
<text font-size="6.6" font-weight="bold" fill="#222" transform="translate(467.46,58.39) rotate(-90)" letter-spacing="0.28" stroke="#222" stroke-width="0.25">**</text>
<rect x="474.10" y="87.93" width="4.4" height="37.17" fill="#a80a32"/>
<path d="M476.30 84.73V91.14" stroke="#111" stroke-width="0.9" fill="none"/>
<path d="M474.50 84.73H478.10M474.50 91.14H478.10" stroke="#111" stroke-width="1.15" fill="none"/>
<text font-size="6.6" font-weight="bold" fill="#222" transform="translate(480.16,81.29) rotate(-90)" letter-spacing="0.28" stroke="#222" stroke-width="0.25">**</text>
<rect x="479.00" y="96.12" width="4.4" height="28.98" fill="#2a4a86"/>
<path d="M479.40 96.12H483.00" stroke="#111" stroke-width="1.77" fill="none"/>
<text font-size="6.6" font-weight="bold" fill="#222" transform="translate(485.06,92.49) rotate(-90)" letter-spacing="0.28" stroke="#222" stroke-width="0.25">***</text>
<path d="M383.4 36.5V125.1H487.4M379.4 125.10H383.4M379.4 110.86H383.4M379.4 96.62H383.4M379.4 82.38H383.4M379.4 68.14H383.4M379.4 53.90H383.4M379.4 39.66H383.4" stroke="#000" stroke-width="1.2" fill="none"/>
<text font-size="9.6" text-anchor="middle" fill="#231f20" stroke="#231f20" stroke-width="0.22" textLength="60.5" lengthAdjust="spacingAndGlyphs" transform="translate(347.60,80.96) rotate(-90)">mRNA expression</text>
<text font-size="9.6" text-anchor="middle" fill="#231f20" stroke="#231f20" stroke-width="0.22" textLength="63.6" lengthAdjust="spacingAndGlyphs" transform="translate(358.60,80.96) rotate(-90)">(relative to shGFP)</text>
<text font-size="7" text-anchor="end" fill="#231f20" stroke="#231f20" stroke-width="0.22" textLength="23" lengthAdjust="spacingAndGlyphs" transform="translate(394.15,129.20) rotate(-90)">sh-GFP</text>
<text font-size="7" text-anchor="end" fill="#231f20" stroke="#231f20" stroke-width="0.22" textLength="30" lengthAdjust="spacingAndGlyphs" transform="translate(411.65,129.20) rotate(-90)">sh-IRF4-1</text>
<text font-size="7" text-anchor="end" fill="#231f20" stroke="#231f20" stroke-width="0.22" textLength="30" lengthAdjust="spacingAndGlyphs" transform="translate(428.95,129.20) rotate(-90)">sh-IRF4-2</text>
<text font-size="7" text-anchor="end" fill="#231f20" stroke="#231f20" stroke-width="0.22" textLength="23" lengthAdjust="spacingAndGlyphs" transform="translate(446.35,129.20) rotate(-90)">sh-GFP</text>
<text font-size="7" text-anchor="end" fill="#231f20" stroke="#231f20" stroke-width="0.22" textLength="30" lengthAdjust="spacingAndGlyphs" transform="translate(463.65,129.20) rotate(-90)">sh-IRF4-1</text>
<text font-size="7" text-anchor="end" fill="#231f20" stroke="#231f20" stroke-width="0.22" textLength="30" lengthAdjust="spacingAndGlyphs" transform="translate(481.25,129.20) rotate(-90)">sh-IRF4-2</text>
<path d="M387.7 163.2H431.5M439.6 163.2H483.5" stroke="#000" stroke-width="1.1" fill="none"/>
<text font-size="7.5" text-anchor="middle" fill="#231f20" stroke="#231f20" stroke-width="0.22" x="408.00" y="172.90">TL-Om1</text>
<text font-size="7.5" text-anchor="middle" fill="#231f20" stroke="#231f20" stroke-width="0.22" x="465.70" y="172.90">MT-2</text>
<text font-size="13.4" font-weight="bold" fill="#000" stroke="#000" stroke-width="0.7" stroke-linejoin="round" x="338.20" y="223.60">D</text>
<text font-size="7.2" text-anchor="end" fill="#231f20" stroke="#231f20" stroke-width="0.22" x="375.80" y="323.40">0</text>
<text font-size="7.2" text-anchor="end" fill="#231f20" stroke="#231f20" stroke-width="0.22" x="375.80" y="309.14">0.2</text>
<text font-size="7.2" text-anchor="end" fill="#231f20" stroke="#231f20" stroke-width="0.22" x="375.80" y="294.88">0.4</text>
<text font-size="7.2" text-anchor="end" fill="#231f20" stroke="#231f20" stroke-width="0.22" x="375.80" y="280.62">0.6</text>
<text font-size="7.2" text-anchor="end" fill="#231f20" stroke="#231f20" stroke-width="0.22" x="375.80" y="266.36">0.8</text>
<text font-size="7.2" text-anchor="end" fill="#231f20" stroke="#231f20" stroke-width="0.22" x="375.80" y="252.10">1</text>
<text font-size="7.2" text-anchor="end" fill="#231f20" stroke="#231f20" stroke-width="0.22" x="375.80" y="237.84">1.2</text>
<rect x="387.00" y="249.50" width="4.4" height="71.30" fill="#a80a32"/>
<path d="M387.40 249.50H391.00" stroke="#111" stroke-width="1.63" fill="none"/>
<rect x="391.90" y="249.50" width="4.4" height="71.30" fill="#2a4a86"/>
<path d="M394.10 243.80V255.20" stroke="#111" stroke-width="0.9" fill="none"/>
<path d="M392.30 243.80H395.90M392.30 255.20H395.90" stroke="#111" stroke-width="1.15" fill="none"/>
<rect x="404.50" y="300.19" width="4.4" height="20.61" fill="#a80a32"/>
<path d="M404.90 300.19H408.50" stroke="#111" stroke-width="1.63" fill="none"/>
<text font-size="6.6" font-weight="bold" fill="#222" transform="translate(410.56,294.69) rotate(-90)" letter-spacing="0.28" stroke="#222" stroke-width="0.25">***</text>
<rect x="409.40" y="296.70" width="4.4" height="24.10" fill="#2a4a86"/>
<path d="M409.80 296.70H413.40" stroke="#111" stroke-width="1.77" fill="none"/>
<text font-size="6.6" font-weight="bold" fill="#222" transform="translate(415.46,291.09) rotate(-90)" letter-spacing="0.28" stroke="#222" stroke-width="0.25">**</text>
<rect x="421.80" y="287.72" width="4.4" height="33.08" fill="#a80a32"/>
<path d="M422.20 287.72H425.80" stroke="#111" stroke-width="1.63" fill="none"/>
<text font-size="6.6" font-weight="bold" fill="#222" transform="translate(427.86,282.59) rotate(-90)" letter-spacing="0.28" stroke="#222" stroke-width="0.25">***</text>
<rect x="426.70" y="283.44" width="4.4" height="37.36" fill="#2a4a86"/>
<path d="M427.10 283.44H430.70" stroke="#111" stroke-width="1.63" fill="none"/>
<text font-size="6.6" font-weight="bold" fill="#222" transform="translate(432.76,278.09) rotate(-90)" letter-spacing="0.28" stroke="#222" stroke-width="0.25">*</text>
<rect x="439.20" y="249.50" width="4.4" height="71.30" fill="#a80a32"/>
<path d="M441.40 245.22V253.78" stroke="#111" stroke-width="0.9" fill="none"/>
<path d="M439.60 245.22H443.20M439.60 253.78H443.20" stroke="#111" stroke-width="1.15" fill="none"/>
<rect x="444.10" y="249.50" width="4.4" height="71.30" fill="#2a4a86"/>
<path d="M444.50 249.50H448.10" stroke="#111" stroke-width="1.56" fill="none"/>
<rect x="456.50" y="298.91" width="4.4" height="21.89" fill="#a80a32"/>
<path d="M456.90 298.91H460.50" stroke="#111" stroke-width="2.06" fill="none"/>
<text font-size="6.6" font-weight="bold" fill="#222" transform="translate(462.56,294.19) rotate(-90)" letter-spacing="0.28" stroke="#222" stroke-width="0.25">**</text>
<rect x="461.40" y="302.40" width="4.4" height="18.40" fill="#2a4a86"/>
<path d="M461.80 302.40H465.40" stroke="#111" stroke-width="1.77" fill="none"/>
<text font-size="6.6" font-weight="bold" fill="#222" transform="translate(467.46,298.19) rotate(-90)" letter-spacing="0.28" stroke="#222" stroke-width="0.25">***</text>
<rect x="474.10" y="283.01" width="4.4" height="37.79" fill="#a80a32"/>
<path d="M474.50 283.01H478.10" stroke="#111" stroke-width="1.63" fill="none"/>
<text font-size="6.6" font-weight="bold" fill="#222" transform="translate(480.16,274.59) rotate(-90)" letter-spacing="0.28" stroke="#222" stroke-width="0.25">**</text>
<rect x="479.00" y="280.23" width="4.4" height="40.57" fill="#2a4a86"/>
<path d="M479.40 280.23H483.00" stroke="#111" stroke-width="1.91" fill="none"/>
<text font-size="6.6" font-weight="bold" fill="#222" transform="translate(485.06,274.79) rotate(-90)" letter-spacing="0.28" stroke="#222" stroke-width="0.25">***</text>
<path d="M383.4 231.9V320.8H485.0M379.4 320.80H383.4M379.4 306.54H383.4M379.4 292.28H383.4M379.4 278.02H383.4M379.4 263.76H383.4M379.4 249.50H383.4M379.4 235.24H383.4" stroke="#000" stroke-width="1.2" fill="none"/>
<text font-size="9.6" text-anchor="middle" fill="#231f20" stroke="#231f20" stroke-width="0.22" textLength="60.5" lengthAdjust="spacingAndGlyphs" transform="translate(347.60,276.59) rotate(-90)">mRNA expression</text>
<text font-size="9.6" text-anchor="middle" fill="#231f20" stroke="#231f20" stroke-width="0.22" textLength="63.6" lengthAdjust="spacingAndGlyphs" transform="translate(358.60,276.59) rotate(-90)">(relative to shGFP)</text>
<text font-size="7" text-anchor="end" fill="#231f20" stroke="#231f20" stroke-width="0.22" textLength="21.5" lengthAdjust="spacingAndGlyphs" transform="translate(394.15,325.60) rotate(-90)">sh-GFP</text>
<text font-size="7" text-anchor="end" fill="#231f20" stroke="#231f20" stroke-width="0.22" textLength="27.7" lengthAdjust="spacingAndGlyphs" transform="translate(411.65,325.60) rotate(-90)">sh-p65-1</text>
<text font-size="7" text-anchor="end" fill="#231f20" stroke="#231f20" stroke-width="0.22" textLength="27.7" lengthAdjust="spacingAndGlyphs" transform="translate(428.95,325.60) rotate(-90)">sh-p65-2</text>
<text font-size="7" text-anchor="end" fill="#231f20" stroke="#231f20" stroke-width="0.22" textLength="21.5" lengthAdjust="spacingAndGlyphs" transform="translate(446.35,325.60) rotate(-90)">sh-GFP</text>
<text font-size="7" text-anchor="end" fill="#231f20" stroke="#231f20" stroke-width="0.22" textLength="27.7" lengthAdjust="spacingAndGlyphs" transform="translate(463.65,325.60) rotate(-90)">sh-p65-1</text>
<text font-size="7" text-anchor="end" fill="#231f20" stroke="#231f20" stroke-width="0.22" textLength="27.7" lengthAdjust="spacingAndGlyphs" transform="translate(481.25,325.60) rotate(-90)">sh-p65-2</text>
<path d="M387.7 357.5H431.5M439.6 357.5H483.5" stroke="#000" stroke-width="1.1" fill="none"/>
<text font-size="7.5" text-anchor="middle" fill="#231f20" stroke="#231f20" stroke-width="0.22" x="408.00" y="367.70">TL-Om1</text>
<text font-size="7.5" text-anchor="middle" fill="#231f20" stroke="#231f20" stroke-width="0.22" x="465.70" y="367.70">MT-2</text>
<text font-size="13.4" font-weight="bold" fill="#000" stroke="#000" stroke-width="0.7" stroke-linejoin="round" x="339.90" y="420.90">E</text>
<path d="M373.1 487 C373.5 478 376 472 379.4 468.3 C384 462.5 390 460 396.7 458.6 C405 456.6 414 456.3 422.7 456.7 C430 457 437.5 458.3 442.9 461.3 C448.5 464.5 451.8 470.5 451.5 477 C451.3 483 446.5 488.5 445.9 493 C445.5 497.5 450.3 502 450 508.6 C449.7 513.5 447 516.5 442.9 518.9 C437 522.5 430 524.3 422.7 524.5 C417.5 524.7 412.5 524.2 408.3 523 C400 520.6 392.5 516.6 386.6 511.5 C379.5 505.5 373.3 497 373.1 487 Z" fill="#b3d59b"/>
<ellipse cx="431" cy="446.5" rx="21.3" ry="15.6" fill="#f5d37d"/>
<text font-size="9.5" text-anchor="middle" fill="#b67d22" stroke="#b67d22" stroke-width="0.1" x="431.00" y="449.30">KRAB</text>
<text font-size="9.5" fill="#7ab557" stroke="#7ab557" stroke-width="0.1" textLength="27" lengthAdjust="spacingAndGlyphs" x="392.00" y="477.80">dCas9</text>
<path d="M339.9 495.2H394.7L399.4 488.7H431L435.1 495.2H511.6M339.9 501.9H393.4L398.7 509H430.4L434.6 501.3H511.6" stroke="#000" stroke-width="1.35" fill="none" stroke-linejoin="round"/>
<path d="M404.5 502.8V506.4M407.5 502.8V506.4M410.5 502.8V506.4M413.4 502.8V506.4M416.4 502.8V506.4M419.3 502.8V506.4M422.3 502.8V506.4M425.3 502.8V506.4" stroke="#a8123a" stroke-width="1.0" fill="none"/>
<path d="M403.5 502.8H425 C428.5 502.8 430.3 501.5 430.9 497 C431.8 490 431.9 479 432.6 473 C433.1 469.3 433.6 468.1 434.3 468.1 C435.2 468.1 435.8 470 436.3 475 C436.9 481 437.2 486 437.9 489 C438.6 491.7 439.6 492.3 440.8 492 C442.6 491.5 443.8 488.5 444.6 484.6" stroke="#a8123a" stroke-width="1.5" fill="none" stroke-linecap="round"/>
<text font-size="9.5" fill="#a8123a" stroke="#a8123a" stroke-width="0.1" textLength="30" lengthAdjust="spacingAndGlyphs" x="404.50" y="519.20">sgRNA</text>
<path d="M452.2 471.2 C470 470 488 474 494.6 488.7" stroke="#3a3a3a" stroke-width="0.9" fill="none"/><path d="M490.8 488.9H498.8" stroke="#3a3a3a" stroke-width="1.2" fill="none"/>
<text font-size="7.2" text-anchor="end" fill="#231f20" stroke="#231f20" stroke-width="0.22" x="375.70" y="658.10">0</text>
<text font-size="7.2" text-anchor="end" fill="#231f20" stroke="#231f20" stroke-width="0.22" x="375.70" y="638.82">0.2</text>
<text font-size="7.2" text-anchor="end" fill="#231f20" stroke="#231f20" stroke-width="0.22" x="375.70" y="619.54">0.4</text>
<text font-size="7.2" text-anchor="end" fill="#231f20" stroke="#231f20" stroke-width="0.22" x="375.70" y="600.26">0.6</text>
<text font-size="7.2" text-anchor="end" fill="#231f20" stroke="#231f20" stroke-width="0.22" x="375.70" y="580.98">0.8</text>
<text font-size="7.2" text-anchor="end" fill="#231f20" stroke="#231f20" stroke-width="0.22" x="375.70" y="561.70">1</text>
<text font-size="7.2" text-anchor="end" fill="#231f20" stroke="#231f20" stroke-width="0.22" x="375.70" y="542.42">1.2</text>
<rect x="388.50" y="559.10" width="5.6" height="96.40" fill="#a80a32"/>
<path d="M391.30 556.21V561.99" stroke="#111" stroke-width="0.9" fill="none"/>
<path d="M389.40 556.21H393.20M389.40 561.99H393.20" stroke="#111" stroke-width="1.15" fill="none"/>
<rect x="395.80" y="559.10" width="5.6" height="96.40" fill="#2a4a86"/>
<path d="M398.60 556.21V561.99" stroke="#111" stroke-width="0.9" fill="none"/>
<path d="M396.70 556.21H400.50M396.70 561.99H400.50" stroke="#111" stroke-width="1.15" fill="none"/>
<rect x="412.40" y="600.84" width="5.6" height="54.66" fill="#a80a32"/>
<path d="M415.20 596.99V604.70" stroke="#111" stroke-width="0.9" fill="none"/>
<path d="M413.30 596.99H417.10M413.30 604.70H417.10" stroke="#111" stroke-width="1.15" fill="none"/>
<text font-size="6.6" font-weight="bold" fill="#222" transform="translate(419.06,594.39) rotate(-90)" letter-spacing="0.38" stroke="#222" stroke-width="0.25">**</text>
<rect x="419.40" y="598.91" width="5.6" height="56.59" fill="#2a4a86"/>
<path d="M420.30 598.91H424.10" stroke="#111" stroke-width="1.78" fill="none"/>
<text font-size="6.6" font-weight="bold" fill="#222" transform="translate(426.06,594.99) rotate(-90)" letter-spacing="0.38" stroke="#222" stroke-width="0.25">**</text>
<rect x="436.30" y="559.10" width="5.6" height="96.40" fill="#a80a32"/>
<path d="M437.20 559.10H441.00" stroke="#111" stroke-width="1.78" fill="none"/>
<rect x="443.30" y="559.10" width="5.6" height="96.40" fill="#2a4a86"/>
<path d="M446.10 548.50V569.70" stroke="#111" stroke-width="0.9" fill="none"/>
<path d="M444.20 548.50H448.00M444.20 569.70H448.00" stroke="#111" stroke-width="1.15" fill="none"/>
<rect x="460.20" y="618.10" width="5.6" height="37.40" fill="#a80a32"/>
<path d="M461.10 618.10H464.90" stroke="#111" stroke-width="1.78" fill="none"/>
<text font-size="6.6" font-weight="bold" fill="#222" transform="translate(466.86,613.79) rotate(-90)" letter-spacing="0.38" stroke="#222" stroke-width="0.25">***</text>
<rect x="467.50" y="619.64" width="5.6" height="35.86" fill="#2a4a86"/>
<path d="M470.30 617.52V621.76" stroke="#111" stroke-width="0.9" fill="none"/>
<path d="M468.40 617.52H472.20M468.40 621.76H472.20" stroke="#111" stroke-width="1.15" fill="none"/>
<text font-size="6.6" font-weight="bold" fill="#222" transform="translate(474.16,613.29) rotate(-90)" letter-spacing="0.38" stroke="#222" stroke-width="0.25">*</text>
<path d="M383.3 536.9V655.5H484M379.3 655.50H383.3M379.3 636.22H383.3M379.3 616.94H383.3M379.3 597.66H383.3M379.3 578.38H383.3M379.3 559.10H383.3M379.3 539.82H383.3" stroke="#000" stroke-width="1.2" fill="none"/>
<text font-size="9.6" text-anchor="middle" fill="#231f20" stroke="#231f20" stroke-width="0.22" textLength="61.5" lengthAdjust="spacingAndGlyphs" transform="translate(352.20,596.20) rotate(-90)">mRNA expression</text>
<text font-size="9.6" text-anchor="middle" fill="#231f20" stroke="#231f20" stroke-width="0.22" textLength="64" lengthAdjust="spacingAndGlyphs" transform="translate(362.20,596.20) rotate(-90)">(relative to DMSO)</text>
<text font-size="7.3" fill="#231f20" stroke="#231f20" stroke-width="0.22" textLength="13.6" lengthAdjust="spacingAndGlyphs" x="362.70" y="665.50">Dox</text>
<text font-size="7.3" text-anchor="middle" fill="#231f20" stroke="#231f20" stroke-width="0.22" x="395.60" y="665.60">-</text>
<text font-size="7.3" text-anchor="middle" fill="#231f20" stroke="#231f20" stroke-width="0.22" x="418.80" y="665.60">+</text>
<text font-size="7.3" text-anchor="middle" fill="#231f20" stroke="#231f20" stroke-width="0.22" x="443.00" y="665.60">-</text>
<text font-size="7.3" text-anchor="middle" fill="#231f20" stroke="#231f20" stroke-width="0.22" x="465.80" y="665.60">+</text>
<path d="M386.2 670.9H427.8M435.4 670.9H476.9" stroke="#000" stroke-width="1.1" fill="none"/>
<text font-size="7.5" text-anchor="middle" fill="#231f20" stroke="#231f20" stroke-width="0.22" x="407.00" y="682.10">sgRNA-1</text>
<text font-size="7.5" text-anchor="middle" fill="#231f20" stroke="#231f20" stroke-width="0.22" x="455.50" y="682.10">sgRNA-2</text>
<rect x="478.6" y="560.1" width="5.3" height="5.7" fill="#a80a32"/>
<text font-size="6.5" fill="#231f20" stroke="#231f20" stroke-width="0.22" textLength="24.8" lengthAdjust="spacingAndGlyphs" x="487.30" y="565.30">CCR4 P1</text>
<rect x="478.6" y="573.3" width="5.3" height="5.7" fill="#2a4a86"/>
<text font-size="6.5" fill="#231f20" stroke="#231f20" stroke-width="0.22" textLength="24.8" lengthAdjust="spacingAndGlyphs" x="487.30" y="578.50">CCR4 P2</text>
<rect x="0.5" y="0.5" width="518.9" height="731.7" fill="none" stroke="#000" stroke-width="1.2"/>
<rect x="519.2" y="0" width="0.8" height="733" fill="#000"/><rect x="0" y="731.6" width="520" height="1.4" fill="#000"/>
</svg></body></html>
